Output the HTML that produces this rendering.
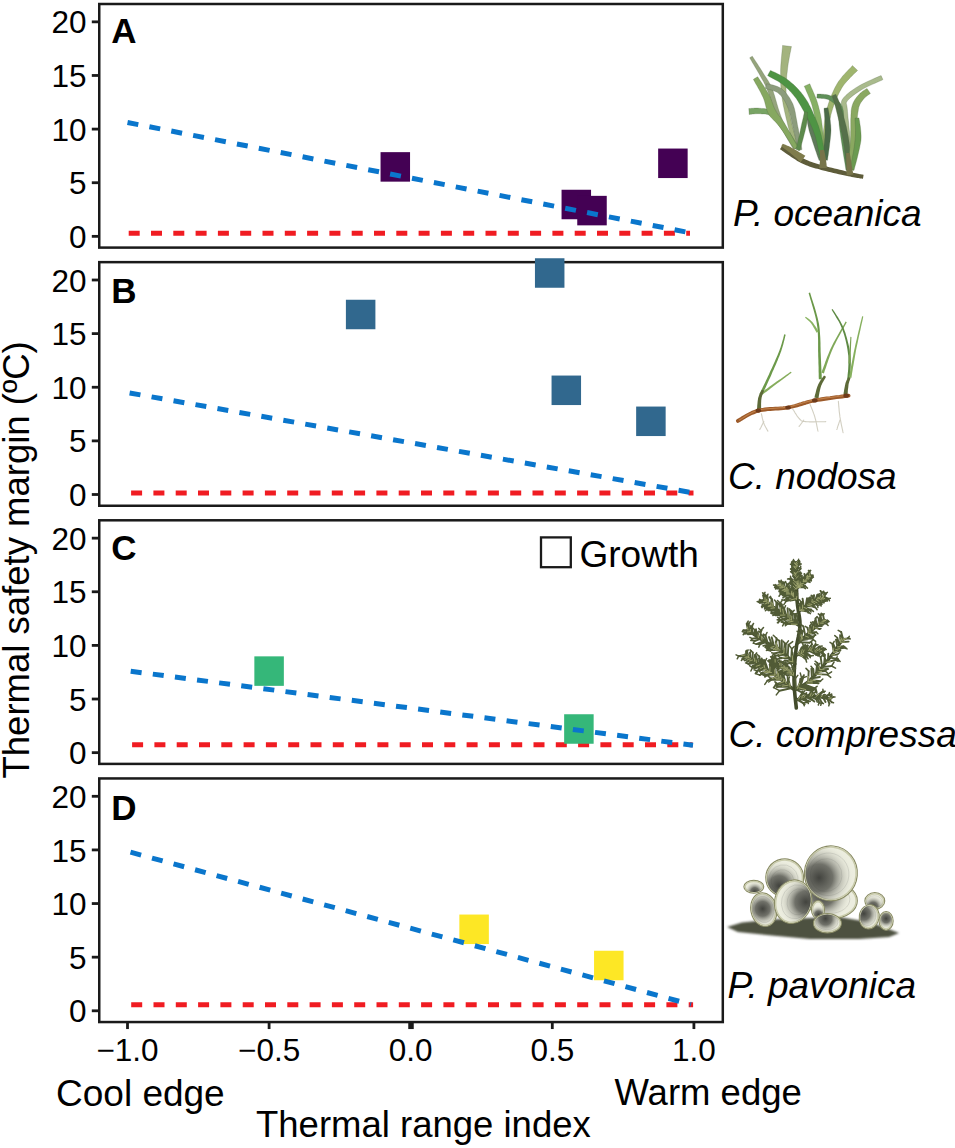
<!DOCTYPE html>
<html><head><meta charset="utf-8"><style>
html,body{margin:0;padding:0;background:#fff;overflow:hidden;}
svg{display:block;font-family:"Liberation Sans",sans-serif;}
</style></head><body>
<svg width="955" height="1148" viewBox="0 0 955 1148">
<rect width="955" height="1148" fill="#fff"/>
<rect x="99.25" y="4.00" width="623.55" height="243.60" fill="none" stroke="#1a1a1a" stroke-width="2.5"/>
<line x1="91.8" y1="236.35" x2="99.25" y2="236.35" stroke="#1a1a1a" stroke-width="2.8"/>
<text x="86.5" y="247.95" text-anchor="end" font-size="31.5">0</text>
<line x1="91.8" y1="182.72" x2="99.25" y2="182.72" stroke="#1a1a1a" stroke-width="2.8"/>
<text x="86.5" y="194.32" text-anchor="end" font-size="31.5">5</text>
<line x1="91.8" y1="129.10" x2="99.25" y2="129.10" stroke="#1a1a1a" stroke-width="2.8"/>
<text x="86.5" y="140.70" text-anchor="end" font-size="31.5">10</text>
<line x1="91.8" y1="75.47" x2="99.25" y2="75.47" stroke="#1a1a1a" stroke-width="2.8"/>
<text x="86.5" y="87.07" text-anchor="end" font-size="31.5">15</text>
<line x1="91.8" y1="21.85" x2="99.25" y2="21.85" stroke="#1a1a1a" stroke-width="2.8"/>
<text x="86.5" y="33.45" text-anchor="end" font-size="31.5">20</text>
<line x1="128.7" y1="233.35" x2="690.0" y2="233.35" stroke="#f01c22" stroke-width="5" stroke-dasharray="11 11.3"/>
<rect x="380.55" y="152.15" width="29.5" height="29.5" fill="#440154"/>
<rect x="561.55" y="189.75" width="29.5" height="29.5" fill="#440154"/>
<rect x="577.25" y="195.85" width="29.5" height="29.5" fill="#440154"/>
<rect x="658.15" y="148.55" width="29.5" height="29.5" fill="#440154"/>
<line x1="127.5" y1="122.50" x2="692" y2="233.14" stroke="#0a76cc" stroke-width="5" stroke-dasharray="11 11.3"/>
<text x="111.3" y="43.00" font-size="35" font-weight="bold">A</text>
<rect x="99.25" y="262.15" width="623.55" height="243.60" fill="none" stroke="#1a1a1a" stroke-width="2.5"/>
<line x1="91.8" y1="494.50" x2="99.25" y2="494.50" stroke="#1a1a1a" stroke-width="2.8"/>
<text x="86.5" y="506.10" text-anchor="end" font-size="31.5">0</text>
<line x1="91.8" y1="440.88" x2="99.25" y2="440.88" stroke="#1a1a1a" stroke-width="2.8"/>
<text x="86.5" y="452.48" text-anchor="end" font-size="31.5">5</text>
<line x1="91.8" y1="387.25" x2="99.25" y2="387.25" stroke="#1a1a1a" stroke-width="2.8"/>
<text x="86.5" y="398.85" text-anchor="end" font-size="31.5">10</text>
<line x1="91.8" y1="333.62" x2="99.25" y2="333.62" stroke="#1a1a1a" stroke-width="2.8"/>
<text x="86.5" y="345.23" text-anchor="end" font-size="31.5">15</text>
<line x1="91.8" y1="280.00" x2="99.25" y2="280.00" stroke="#1a1a1a" stroke-width="2.8"/>
<text x="86.5" y="291.60" text-anchor="end" font-size="31.5">20</text>
<line x1="131.1" y1="493.0" x2="693.5" y2="493.0" stroke="#f01c22" stroke-width="5" stroke-dasharray="11 11.3"/>
<rect x="345.90" y="299.75" width="29.5" height="29.5" fill="#31688e"/>
<rect x="534.95" y="258.25" width="29.5" height="29.5" fill="#31688e"/>
<rect x="551.55" y="375.55" width="29.5" height="29.5" fill="#31688e"/>
<rect x="636.15" y="406.55" width="29.5" height="29.5" fill="#31688e"/>
<line x1="129.6" y1="392.97" x2="692" y2="492.69" stroke="#0a76cc" stroke-width="5" stroke-dasharray="11 11.3"/>
<text x="111.3" y="302.60" font-size="35" font-weight="bold">B</text>
<rect x="99.25" y="520.30" width="623.55" height="243.60" fill="none" stroke="#1a1a1a" stroke-width="2.5"/>
<line x1="91.8" y1="752.65" x2="99.25" y2="752.65" stroke="#1a1a1a" stroke-width="2.8"/>
<text x="86.5" y="764.25" text-anchor="end" font-size="31.5">0</text>
<line x1="91.8" y1="699.02" x2="99.25" y2="699.02" stroke="#1a1a1a" stroke-width="2.8"/>
<text x="86.5" y="710.62" text-anchor="end" font-size="31.5">5</text>
<line x1="91.8" y1="645.40" x2="99.25" y2="645.40" stroke="#1a1a1a" stroke-width="2.8"/>
<text x="86.5" y="657.00" text-anchor="end" font-size="31.5">10</text>
<line x1="91.8" y1="591.77" x2="99.25" y2="591.77" stroke="#1a1a1a" stroke-width="2.8"/>
<text x="86.5" y="603.38" text-anchor="end" font-size="31.5">15</text>
<line x1="91.8" y1="538.15" x2="99.25" y2="538.15" stroke="#1a1a1a" stroke-width="2.8"/>
<text x="86.5" y="549.75" text-anchor="end" font-size="31.5">20</text>
<line x1="132.1" y1="744.7" x2="692.6" y2="744.7" stroke="#f01c22" stroke-width="5" stroke-dasharray="11 11.3"/>
<rect x="254.35" y="656.35" width="29.5" height="29.5" fill="#35b779"/>
<rect x="564.15" y="714.25" width="29.5" height="29.5" fill="#35b779"/>
<line x1="130.7" y1="671.22" x2="693" y2="745.28" stroke="#0a76cc" stroke-width="5" stroke-dasharray="11 11.3"/>
<text x="111.3" y="560.00" font-size="35" font-weight="bold">C</text>
<rect x="99.25" y="778.45" width="623.55" height="243.60" fill="none" stroke="#1a1a1a" stroke-width="2.5"/>
<line x1="91.8" y1="1010.80" x2="99.25" y2="1010.80" stroke="#1a1a1a" stroke-width="2.8"/>
<text x="86.5" y="1022.40" text-anchor="end" font-size="31.5">0</text>
<line x1="91.8" y1="957.17" x2="99.25" y2="957.17" stroke="#1a1a1a" stroke-width="2.8"/>
<text x="86.5" y="968.77" text-anchor="end" font-size="31.5">5</text>
<line x1="91.8" y1="903.55" x2="99.25" y2="903.55" stroke="#1a1a1a" stroke-width="2.8"/>
<text x="86.5" y="915.15" text-anchor="end" font-size="31.5">10</text>
<line x1="91.8" y1="849.92" x2="99.25" y2="849.92" stroke="#1a1a1a" stroke-width="2.8"/>
<text x="86.5" y="861.52" text-anchor="end" font-size="31.5">15</text>
<line x1="91.8" y1="796.30" x2="99.25" y2="796.30" stroke="#1a1a1a" stroke-width="2.8"/>
<text x="86.5" y="807.90" text-anchor="end" font-size="31.5">20</text>
<line x1="131.2" y1="1004.85" x2="693.1" y2="1004.85" stroke="#f01c22" stroke-width="5" stroke-dasharray="11 11.3"/>
<rect x="459.35" y="914.55" width="29.5" height="29.5" fill="#fde725"/>
<rect x="594.05" y="950.75" width="29.5" height="29.5" fill="#fde725"/>
<line x1="130.5" y1="852.21" x2="691" y2="1004.45" stroke="#0a76cc" stroke-width="5" stroke-dasharray="11 11.3"/>
<text x="111.3" y="819.80" font-size="35" font-weight="bold">D</text>
<line x1="127.50" y1="1022.05" x2="127.50" y2="1029.05" stroke="#1a1a1a" stroke-width="2.8"/>
<text x="127.50" y="1060.5" text-anchor="middle" font-size="31.5">−1.0</text>
<line x1="269.10" y1="1022.05" x2="269.10" y2="1029.05" stroke="#1a1a1a" stroke-width="2.8"/>
<text x="269.10" y="1060.5" text-anchor="middle" font-size="31.5">−0.5</text>
<line x1="411.00" y1="1022.05" x2="411.00" y2="1029.05" stroke="#1a1a1a" stroke-width="5.5"/>
<text x="410.70" y="1060.5" text-anchor="middle" font-size="31.5">0.0</text>
<line x1="552.30" y1="1022.05" x2="552.30" y2="1029.05" stroke="#1a1a1a" stroke-width="2.8"/>
<text x="552.30" y="1060.5" text-anchor="middle" font-size="31.5">0.5</text>
<line x1="693.90" y1="1022.05" x2="693.90" y2="1029.05" stroke="#1a1a1a" stroke-width="2.8"/>
<text x="693.90" y="1060.5" text-anchor="middle" font-size="31.5">1.0</text>
<rect x="541" y="537.4" width="29.8" height="29.8" fill="none" stroke="#1a1a1a" stroke-width="2.3"/>
<text x="579.5" y="567" font-size="37">Growth</text>
<text x="56" y="1105.5" font-size="37">Cool edge</text>
<text x="614.5" y="1105" font-size="36.5">Warm edge</text>
<text x="256" y="1137" font-size="36.5">Thermal range index</text>
<text transform="translate(29.3,778.5) rotate(-90)" font-size="36.5">Thermal safety margin (ºC)</text>
<text x="733" y="225.5" font-size="37" font-style="italic">P. oceanica</text>
<text x="728" y="489.2" font-size="37" font-style="italic">C. nodosa</text>
<text x="728.5" y="746.8" font-size="37" font-style="italic">C. compressa</text>
<text x="727.5" y="998.1" font-size="37" font-style="italic">P. pavonica</text>
<g>
<path d="M798.9,147.4 L798.6,146.3 L798.1,145.0 L797.6,143.4 L797.1,141.7 L796.5,139.8 L795.8,137.7 L795.2,135.6 L794.5,133.4 L793.9,131.2 L793.2,128.9 L792.6,126.7 L792.1,124.5 L791.5,122.2 L791.0,119.8 L790.4,117.4 L789.8,114.9 L789.3,112.3 L788.7,109.7 L788.2,107.1 L787.7,104.5 L787.2,101.9 L786.8,99.5 L786.5,97.1 L786.2,94.8 L786.1,92.5 L786.1,90.4 L786.0,88.3 L786.1,86.2 L786.1,84.2 L786.2,82.2 L786.4,80.2 L786.6,78.2 L786.7,76.2 L786.9,74.2 L787.2,72.2 L787.4,70.2 L787.6,68.2 L787.9,66.0 L788.2,63.8 L788.6,61.5 L789.0,59.2 L789.4,57.0 L789.8,54.8 L790.2,52.8 L790.6,50.9 L790.9,49.2 L791.2,47.8 L791.5,46.6 L782.5,45.4 L782.5,46.6 L782.4,48.0 L782.2,49.7 L782.0,51.6 L781.8,53.7 L781.6,55.9 L781.4,58.2 L781.2,60.6 L781.0,63.0 L780.8,65.3 L780.7,67.6 L780.6,69.8 L780.6,71.8 L780.6,73.9 L780.6,75.9 L780.6,78.0 L780.6,80.0 L780.6,82.1 L780.7,84.2 L780.8,86.3 L781.0,88.5 L781.2,90.7 L781.4,92.9 L781.8,95.2 L782.1,97.6 L782.4,100.1 L782.9,102.7 L783.3,105.3 L783.9,107.9 L784.4,110.6 L785.0,113.2 L785.6,115.8 L786.2,118.4 L786.8,120.8 L787.4,123.2 L787.9,125.5 L788.5,127.8 L789.2,130.1 L789.8,132.4 L790.5,134.6 L791.2,136.9 L791.9,139.0 L792.6,141.0 L793.2,142.9 L793.8,144.7 L794.3,146.2 L794.7,147.5 L795.1,148.6Z" fill="#a3b37e" stroke="#4a5e3a" stroke-width="0.5" stroke-opacity="0.5"/>
<path d="M796.8,147.0 L796.0,145.7 L795.1,144.0 L794.0,142.0 L792.7,139.8 L791.4,137.4 L790.0,134.8 L788.5,132.2 L787.1,129.5 L785.7,126.8 L784.4,124.1 L783.1,121.5 L782.1,119.1 L781.1,116.7 L780.2,114.2 L779.3,111.6 L778.4,108.9 L777.6,106.2 L776.8,103.5 L776.1,100.9 L775.3,98.3 L774.6,95.8 L773.8,93.4 L773.1,91.1 L772.3,89.1 L771.5,87.3 L770.8,85.7 L770.1,84.2 L769.4,82.9 L768.7,81.7 L768.0,80.6 L767.3,79.6 L766.7,78.5 L766.0,77.5 L765.3,76.4 L764.5,75.3 L763.7,74.0 L762.8,72.6 L761.9,71.0 L760.8,69.3 L759.7,67.6 L758.6,65.9 L757.5,64.1 L756.4,62.5 L755.4,60.9 L754.4,59.4 L753.6,58.2 L752.9,57.1 L752.3,56.2 L749.7,57.8 L750.2,58.7 L750.9,59.8 L751.7,61.2 L752.5,62.7 L753.5,64.3 L754.5,66.0 L755.5,67.7 L756.6,69.5 L757.6,71.3 L758.6,72.9 L759.5,74.5 L760.3,76.0 L761.0,77.3 L761.7,78.6 L762.4,79.7 L763.0,80.8 L763.6,81.8 L764.1,82.9 L764.7,83.9 L765.2,85.1 L765.8,86.3 L766.4,87.7 L767.0,89.2 L767.7,90.9 L768.4,92.8 L769.2,94.9 L769.9,97.2 L770.7,99.7 L771.5,102.2 L772.3,104.9 L773.1,107.6 L774.0,110.3 L774.9,113.0 L775.9,115.7 L776.9,118.3 L777.9,120.9 L779.1,123.4 L780.4,126.1 L781.8,128.8 L783.3,131.5 L784.8,134.3 L786.3,136.9 L787.7,139.5 L789.1,141.8 L790.4,144.0 L791.5,146.0 L792.5,147.6 L793.2,149.0Z" fill="#95a47c" stroke="#4a5e3a" stroke-width="0.5" stroke-opacity="0.5"/>
<path d="M852.0,169.9 L851.9,168.4 L851.8,166.6 L851.7,164.5 L851.6,162.1 L851.4,159.5 L851.3,156.7 L851.1,153.9 L850.9,151.0 L850.8,148.1 L850.6,145.2 L850.4,142.4 L850.2,139.8 L850.0,137.2 L849.7,134.6 L849.5,131.8 L849.2,129.0 L848.9,126.2 L848.7,123.5 L848.4,120.8 L848.1,118.3 L847.9,115.9 L847.7,113.6 L847.5,111.6 L847.4,109.8 L847.2,108.2 L847.0,106.8 L846.8,105.6 L846.6,104.7 L846.4,103.9 L846.3,103.4 L846.3,103.1 L846.3,102.9 L846.3,102.8 L846.4,102.6 L846.6,102.1 L847.0,101.4 L847.6,100.6 L848.3,99.8 L849.2,98.8 L850.2,97.9 L851.4,96.9 L852.6,95.9 L853.9,94.9 L855.3,93.9 L856.7,92.9 L858.2,91.9 L859.7,90.9 L861.2,90.0 L862.8,89.1 L864.6,88.1 L866.5,87.1 L868.6,86.1 L870.7,85.1 L872.9,84.1 L875.0,83.2 L877.0,82.3 L878.8,81.5 L880.4,80.8 L881.8,80.2 L882.9,79.6 L881.1,75.6 L880.0,76.0 L878.6,76.6 L877.0,77.3 L875.1,78.1 L873.1,79.0 L871.0,80.0 L868.8,80.9 L866.6,81.9 L864.5,83.0 L862.4,84.0 L860.5,85.0 L858.8,86.0 L857.2,87.0 L855.6,87.9 L854.1,89.0 L852.6,90.0 L851.1,91.1 L849.7,92.1 L848.3,93.2 L847.0,94.3 L845.8,95.4 L844.8,96.4 L843.8,97.5 L843.0,98.6 L842.3,99.6 L841.8,100.6 L841.5,101.5 L841.3,102.5 L841.3,103.5 L841.4,104.4 L841.6,105.1 L841.8,105.9 L842.0,106.7 L842.3,107.6 L842.4,108.8 L842.6,110.2 L842.8,112.0 L843.0,114.1 L843.2,116.3 L843.5,118.8 L843.8,121.3 L844.1,124.0 L844.4,126.7 L844.7,129.5 L845.0,132.3 L845.3,135.0 L845.6,137.6 L845.8,140.2 L846.0,142.8 L846.3,145.5 L846.5,148.4 L846.7,151.3 L846.9,154.2 L847.1,157.0 L847.3,159.8 L847.5,162.3 L847.6,164.7 L847.8,166.9 L847.9,168.7 L848.0,170.1Z" fill="#a9ba8c" stroke="#4a5e3a" stroke-width="0.5" stroke-opacity="0.5"/>
<path d="M826.0,158.1 L826.1,156.8 L826.3,155.0 L826.4,152.9 L826.6,150.6 L826.7,148.1 L826.9,145.5 L827.1,142.8 L827.4,140.1 L827.6,137.4 L827.8,134.8 L828.1,132.4 L828.4,130.3 L828.6,128.2 L828.9,126.3 L829.2,124.4 L829.4,122.6 L829.7,120.8 L830.0,119.1 L830.4,117.4 L830.7,115.7 L831.1,114.0 L831.6,112.3 L832.1,110.6 L832.6,108.8 L833.2,107.0 L833.9,105.1 L834.6,103.2 L835.4,101.2 L836.2,99.3 L837.0,97.3 L837.9,95.4 L838.8,93.5 L839.7,91.7 L840.7,90.0 L841.6,88.3 L842.6,86.7 L843.7,85.1 L844.9,83.6 L846.2,82.0 L847.6,80.4 L849.1,78.9 L850.5,77.3 L852.0,75.9 L853.3,74.6 L854.6,73.3 L855.8,72.2 L856.8,71.2 L857.6,70.4 L852.4,65.6 L851.7,66.4 L850.9,67.4 L849.8,68.5 L848.5,69.8 L847.2,71.2 L845.7,72.8 L844.2,74.4 L842.7,76.1 L841.3,77.9 L839.9,79.7 L838.5,81.5 L837.4,83.3 L836.3,85.2 L835.3,87.0 L834.3,89.0 L833.4,91.0 L832.5,93.0 L831.6,95.0 L830.8,97.1 L830.0,99.2 L829.3,101.2 L828.6,103.2 L828.0,105.2 L827.4,107.2 L826.8,109.1 L826.4,111.0 L825.9,112.8 L825.6,114.7 L825.3,116.5 L825.0,118.3 L824.7,120.1 L824.5,121.9 L824.3,123.8 L824.1,125.7 L823.9,127.7 L823.6,129.7 L823.4,132.0 L823.2,134.4 L823.0,137.1 L822.9,139.8 L822.7,142.5 L822.6,145.2 L822.4,147.9 L822.3,150.4 L822.2,152.7 L822.1,154.8 L822.1,156.5 L822.0,157.9Z" fill="#9fb56e" stroke="#4a5e3a" stroke-width="0.5" stroke-opacity="0.5"/>
<path d="M802.0,149.6 L801.8,148.4 L801.5,146.8 L801.2,145.0 L800.8,142.9 L800.4,140.7 L800.0,138.3 L799.6,135.9 L799.1,133.4 L798.7,131.0 L798.3,128.7 L797.8,126.5 L797.4,124.5 L797.1,122.6 L796.8,120.8 L796.4,119.0 L796.1,117.2 L795.8,115.5 L795.5,113.7 L795.2,112.0 L794.8,110.3 L794.4,108.6 L793.9,107.0 L793.4,105.4 L792.8,103.8 L792.0,102.3 L791.3,100.9 L790.5,99.4 L789.7,98.1 L788.8,96.7 L787.9,95.4 L787.0,94.2 L786.0,93.0 L785.0,91.8 L783.9,90.8 L782.8,89.8 L781.7,88.8 L780.4,87.9 L779.0,87.2 L777.5,86.5 L776.0,86.0 L774.5,85.5 L773.1,85.1 L771.7,84.7 L770.4,84.5 L769.2,84.2 L768.2,84.0 L767.4,83.8 L766.7,83.6 L765.3,88.4 L766.0,88.6 L767.0,88.9 L768.0,89.2 L769.2,89.5 L770.4,89.8 L771.7,90.2 L773.0,90.6 L774.2,91.0 L775.4,91.5 L776.5,92.0 L777.5,92.6 L778.3,93.2 L779.1,93.9 L780.0,94.7 L780.8,95.6 L781.6,96.6 L782.4,97.6 L783.2,98.7 L784.0,99.9 L784.7,101.1 L785.4,102.3 L786.0,103.6 L786.7,104.9 L787.2,106.2 L787.8,107.5 L788.4,108.9 L788.8,110.3 L789.3,111.8 L789.7,113.3 L790.1,114.9 L790.5,116.6 L790.9,118.3 L791.3,120.0 L791.7,121.8 L792.1,123.7 L792.6,125.5 L793.0,127.5 L793.5,129.7 L794.0,132.0 L794.6,134.3 L795.1,136.8 L795.6,139.2 L796.1,141.5 L796.6,143.7 L797.0,145.8 L797.4,147.6 L797.8,149.2 L798.0,150.4Z" fill="#8c9c7c" stroke="#4a5e3a" stroke-width="0.5" stroke-opacity="0.5"/>
<path d="M824.0,159.9 L824.0,158.4 L823.9,156.6 L823.9,154.4 L823.8,151.9 L823.7,149.3 L823.6,146.4 L823.5,143.5 L823.4,140.6 L823.3,137.7 L823.1,134.8 L822.9,132.1 L822.6,129.7 L822.4,127.4 L822.1,125.1 L821.8,122.8 L821.5,120.6 L821.2,118.4 L820.8,116.3 L820.4,114.2 L819.9,112.1 L819.4,110.1 L818.9,108.1 L818.4,106.1 L817.9,104.2 L817.3,102.2 L816.6,100.1 L815.8,98.1 L815.0,96.1 L814.2,94.1 L813.4,92.3 L812.7,90.5 L811.9,88.8 L811.2,87.3 L810.7,85.9 L810.2,84.8 L809.8,83.8 L804.2,86.2 L804.6,87.1 L805.2,88.3 L805.8,89.7 L806.4,91.2 L807.2,92.9 L807.9,94.6 L808.7,96.5 L809.5,98.3 L810.2,100.2 L810.9,102.1 L811.6,104.0 L812.1,105.8 L812.6,107.7 L813.1,109.6 L813.6,111.5 L814.1,113.4 L814.5,115.4 L814.9,117.5 L815.4,119.5 L815.8,121.6 L816.2,123.7 L816.6,125.9 L817.0,128.1 L817.4,130.3 L817.7,132.7 L818.0,135.3 L818.3,138.0 L818.5,140.9 L818.8,143.8 L819.0,146.7 L819.2,149.5 L819.4,152.1 L819.5,154.6 L819.7,156.8 L819.9,158.6 L820.0,160.1Z" fill="#86b064" stroke="#4a5e3a" stroke-width="0.5" stroke-opacity="0.5"/>
<path d="M798.7,146.9 L798.1,146.0 L797.4,144.9 L796.6,143.6 L795.7,142.1 L794.7,140.5 L793.6,138.8 L792.5,137.1 L791.3,135.3 L790.2,133.6 L789.0,131.8 L787.9,130.2 L786.8,128.7 L785.8,127.2 L784.7,125.7 L783.7,124.2 L782.6,122.7 L781.5,121.1 L780.4,119.6 L779.3,118.2 L778.1,116.7 L777.0,115.4 L775.9,114.2 L774.7,113.0 L773.5,112.0 L772.3,111.1 L771.1,110.4 L769.8,109.9 L768.6,109.4 L767.4,109.1 L766.3,108.9 L765.2,108.7 L764.1,108.6 L763.1,108.5 L762.1,108.4 L761.2,108.4 L760.2,108.3 L759.2,108.2 L758.0,108.1 L756.9,108.1 L755.7,108.1 L754.6,108.1 L753.5,108.2 L752.5,108.3 L751.5,108.3 L750.7,108.4 L749.9,108.5 L749.3,108.5 L748.8,108.5 L749.2,114.5 L749.8,114.4 L750.5,114.3 L751.2,114.3 L752.1,114.1 L753.0,114.0 L754.0,113.9 L755.0,113.8 L756.0,113.8 L757.0,113.7 L757.9,113.7 L758.9,113.7 L759.8,113.7 L760.8,113.8 L761.8,113.9 L762.8,113.9 L763.7,113.9 L764.6,114.0 L765.5,114.1 L766.3,114.2 L767.2,114.4 L768.0,114.6 L768.8,115.0 L769.6,115.4 L770.5,116.0 L771.4,116.7 L772.4,117.6 L773.4,118.7 L774.4,119.9 L775.5,121.1 L776.6,122.5 L777.7,123.9 L778.8,125.4 L779.9,126.9 L781.0,128.4 L782.1,129.9 L783.2,131.3 L784.3,132.8 L785.4,134.3 L786.5,136.0 L787.7,137.7 L788.9,139.5 L790.0,141.2 L791.1,142.8 L792.2,144.4 L793.1,145.8 L794.0,147.1 L794.7,148.2 L795.3,149.1Z" fill="#78a464" stroke="#4a5e3a" stroke-width="0.5" stroke-opacity="0.5"/>
<path d="M797.7,147.0 L797.1,145.8 L796.3,144.3 L795.3,142.5 L794.2,140.5 L793.0,138.3 L791.8,136.0 L790.5,133.7 L789.2,131.4 L787.9,129.1 L786.7,127.0 L785.5,125.1 L784.5,123.3 L783.5,121.8 L782.6,120.4 L781.6,119.1 L780.8,117.9 L779.9,116.8 L779.1,115.8 L778.4,114.8 L777.7,113.9 L777.1,112.9 L776.5,112.0 L776.0,111.1 L775.5,110.1 L774.9,109.1 L774.4,108.0 L773.9,106.9 L773.4,105.8 L773.0,104.5 L772.5,103.2 L772.0,101.9 L771.5,100.5 L771.0,99.1 L770.4,97.6 L769.7,96.1 L768.9,94.6 L768.1,93.0 L767.1,91.4 L766.1,89.7 L765.0,88.0 L763.9,86.2 L762.8,84.5 L761.8,82.9 L760.7,81.3 L759.8,79.9 L758.9,78.6 L758.2,77.6 L757.6,76.7 L753.4,79.3 L753.8,80.2 L754.5,81.4 L755.2,82.7 L756.0,84.2 L757.0,85.8 L757.9,87.5 L758.9,89.2 L759.9,91.0 L760.8,92.7 L761.6,94.4 L762.4,96.0 L763.1,97.4 L763.6,98.7 L764.1,100.0 L764.5,101.3 L764.9,102.7 L765.2,104.0 L765.6,105.4 L765.9,106.8 L766.3,108.2 L766.7,109.6 L767.2,111.0 L767.8,112.5 L768.5,113.9 L769.4,115.2 L770.2,116.4 L771.1,117.5 L772.1,118.5 L773.0,119.5 L773.9,120.4 L774.8,121.3 L775.7,122.2 L776.6,123.2 L777.5,124.2 L778.5,125.4 L779.5,126.7 L780.6,128.2 L781.9,130.0 L783.2,132.0 L784.6,134.2 L786.0,136.4 L787.5,138.6 L788.9,140.8 L790.2,142.9 L791.5,144.8 L792.6,146.5 L793.5,147.9 L794.3,149.0Z" fill="#86a860" stroke="#4a5e3a" stroke-width="0.5" stroke-opacity="0.5"/>
<path d="M850.0,169.7 L849.7,167.7 L849.3,165.1 L848.9,162.1 L848.4,158.6 L847.8,154.9 L847.2,151.1 L846.6,147.1 L846.1,143.2 L845.5,139.4 L845.0,135.8 L844.6,132.5 L844.2,129.7 L844.0,127.3 L843.8,125.0 L843.7,122.8 L843.7,120.8 L843.6,118.9 L843.6,117.1 L843.6,115.3 L843.5,113.6 L843.4,111.9 L843.2,110.3 L842.8,108.7 L842.3,107.1 L841.7,105.7 L841.0,104.3 L840.1,103.1 L839.2,101.9 L838.3,100.9 L837.3,100.0 L836.2,99.1 L835.2,98.4 L834.1,97.7 L833.1,97.1 L832.1,96.5 L831.0,96.0 L829.8,95.5 L828.5,95.1 L827.1,94.7 L825.7,94.5 L824.4,94.4 L823.1,94.3 L821.8,94.2 L820.6,94.1 L819.5,94.1 L818.6,94.1 L817.8,94.1 L817.2,94.0 L816.8,98.0 L817.5,98.1 L818.3,98.2 L819.3,98.2 L820.4,98.3 L821.5,98.4 L822.7,98.5 L823.9,98.6 L825.1,98.8 L826.2,99.0 L827.3,99.3 L828.2,99.6 L829.0,100.0 L829.9,100.5 L830.8,101.0 L831.6,101.6 L832.5,102.2 L833.3,102.8 L834.1,103.5 L834.8,104.2 L835.5,105.0 L836.1,105.9 L836.7,106.8 L837.2,107.8 L837.7,108.9 L838.0,110.0 L838.3,111.2 L838.5,112.5 L838.7,114.0 L838.8,115.5 L838.9,117.2 L838.9,119.0 L839.0,121.0 L839.1,123.1 L839.2,125.3 L839.5,127.7 L839.8,130.3 L840.2,133.1 L840.7,136.4 L841.2,140.0 L841.8,143.8 L842.4,147.7 L843.0,151.7 L843.6,155.6 L844.2,159.3 L844.8,162.7 L845.3,165.8 L845.7,168.3 L846.0,170.3Z" fill="#5e8f58" stroke="#4a5e3a" stroke-width="0.5" stroke-opacity="0.5"/>
<path d="M822.9,159.4 L822.5,157.9 L822.0,156.0 L821.4,153.7 L820.7,151.1 L819.9,148.3 L819.1,145.4 L818.3,142.4 L817.5,139.5 L816.7,136.6 L816.0,133.9 L815.4,131.4 L814.9,129.2 L814.3,127.3 L813.8,125.4 L813.2,123.6 L812.8,121.9 L812.3,120.2 L811.9,118.6 L811.5,117.1 L811.1,115.8 L810.8,114.5 L810.5,113.4 L810.2,112.4 L810.0,111.6 L806.0,112.4 L806.1,113.3 L806.3,114.2 L806.4,115.4 L806.6,116.7 L806.8,118.1 L807.0,119.6 L807.3,121.3 L807.5,123.0 L807.9,124.9 L808.2,126.8 L808.7,128.7 L809.1,130.8 L809.8,133.0 L810.6,135.4 L811.5,138.1 L812.4,141.0 L813.4,143.9 L814.4,146.9 L815.3,149.7 L816.3,152.5 L817.1,155.0 L817.9,157.2 L818.6,159.1 L819.1,160.6Z" fill="#5f7a5a" stroke="#4a5e3a" stroke-width="0.5" stroke-opacity="0.5"/>
<path d="M827.5,160.3 L827.7,158.8 L827.9,157.0 L828.3,154.7 L828.6,152.2 L829.0,149.5 L829.4,146.7 L829.7,143.8 L830.1,140.8 L830.4,137.9 L830.7,135.1 L830.9,132.5 L831.0,130.1 L830.9,127.8 L830.8,125.5 L830.5,123.2 L830.3,121.0 L830.0,118.9 L829.7,116.8 L829.3,114.9 L829.0,113.1 L828.7,111.5 L828.4,110.0 L828.2,108.8 L828.0,107.8 L824.0,108.2 L824.0,109.3 L824.1,110.6 L824.2,112.1 L824.4,113.7 L824.5,115.5 L824.7,117.4 L824.9,119.4 L825.0,121.5 L825.1,123.6 L825.1,125.7 L825.1,127.9 L825.0,129.9 L825.0,132.2 L824.8,134.7 L824.7,137.4 L824.4,140.2 L824.2,143.2 L823.9,146.1 L823.6,148.9 L823.3,151.6 L823.1,154.1 L822.8,156.3 L822.6,158.2 L822.5,159.7Z" fill="#4a6a48" stroke="#4a5e3a" stroke-width="0.5" stroke-opacity="0.5"/>
<path d="M851.5,169.8 L851.4,168.3 L851.3,166.5 L851.1,164.4 L851.0,162.0 L850.8,159.4 L850.6,156.6 L850.4,153.8 L850.1,150.8 L849.8,147.9 L849.5,145.0 L849.2,142.2 L848.8,139.5 L848.4,136.9 L847.9,134.3 L847.3,131.5 L846.8,128.8 L846.2,126.1 L845.5,123.4 L844.8,120.7 L844.1,118.2 L843.4,115.7 L842.8,113.4 L842.2,111.3 L841.6,109.3 L841.0,107.5 L840.4,105.7 L839.9,104.1 L839.3,102.6 L838.8,101.1 L838.3,99.8 L837.8,98.6 L837.3,97.6 L836.9,96.6 L836.5,95.7 L836.2,95.0 L835.9,94.3 L832.1,95.7 L832.3,96.4 L832.5,97.2 L832.8,98.1 L833.1,99.1 L833.5,100.2 L833.9,101.4 L834.3,102.7 L834.7,104.1 L835.1,105.6 L835.5,107.2 L836.0,108.9 L836.4,110.7 L836.9,112.7 L837.4,114.8 L838.0,117.2 L838.5,119.6 L839.1,122.1 L839.7,124.8 L840.4,127.4 L841.0,130.1 L841.6,132.8 L842.2,135.4 L842.7,138.0 L843.2,140.5 L843.6,143.0 L844.0,145.7 L844.4,148.5 L844.7,151.4 L845.0,154.3 L845.3,157.1 L845.5,159.8 L845.8,162.4 L846.0,164.8 L846.2,166.9 L846.3,168.8 L846.5,170.2Z" fill="#55704a" stroke="#4a5e3a" stroke-width="0.5" stroke-opacity="0.5"/>
<path d="M825.5,159.5 L825.3,158.3 L825.1,156.8 L824.8,154.9 L824.5,152.9 L824.1,150.6 L823.8,148.2 L823.3,145.8 L822.9,143.3 L822.5,140.9 L822.0,138.5 L821.5,136.2 L821.0,134.2 L820.5,132.2 L819.9,130.4 L819.3,128.5 L818.8,126.8 L818.2,125.0 L817.5,123.3 L816.9,121.7 L816.2,120.0 L815.5,118.3 L814.8,116.7 L814.1,115.0 L813.3,113.4 L812.6,111.7 L811.8,110.0 L811.0,108.3 L810.1,106.6 L809.2,104.9 L808.4,103.2 L807.4,101.5 L806.4,99.9 L805.3,98.3 L804.2,96.7 L803.2,95.2 L802.0,93.7 L800.9,92.3 L799.7,90.9 L798.5,89.6 L797.3,88.3 L796.1,87.0 L794.8,85.8 L793.6,84.6 L792.3,83.5 L791.0,82.4 L789.7,81.3 L788.4,80.3 L787.0,79.3 L785.6,78.3 L784.1,77.3 L782.5,76.4 L780.8,75.5 L779.2,74.6 L777.6,73.8 L776.1,73.0 L774.6,72.3 L773.3,71.7 L772.1,71.2 L771.2,70.7 L770.4,70.4 L767.6,75.6 L768.4,76.1 L769.4,76.7 L770.5,77.3 L771.8,77.9 L773.2,78.7 L774.6,79.5 L776.1,80.3 L777.6,81.1 L779.1,82.0 L780.5,82.9 L781.8,83.8 L783.0,84.7 L784.1,85.7 L785.3,86.6 L786.4,87.7 L787.6,88.7 L788.7,89.8 L789.8,90.9 L790.9,92.1 L791.9,93.3 L793.0,94.5 L794.0,95.7 L795.0,97.0 L796.0,98.3 L796.9,99.6 L797.8,101.0 L798.7,102.5 L799.6,104.0 L800.5,105.5 L801.4,107.1 L802.3,108.7 L803.2,110.2 L804.1,111.8 L805.0,113.4 L805.8,115.0 L806.7,116.6 L807.5,118.2 L808.3,119.7 L809.1,121.3 L809.8,122.8 L810.5,124.4 L811.2,125.9 L811.9,127.5 L812.6,129.1 L813.2,130.7 L813.8,132.4 L814.4,134.1 L815.0,135.8 L815.6,137.7 L816.1,139.8 L816.7,142.1 L817.2,144.5 L817.7,146.9 L818.2,149.3 L818.7,151.6 L819.2,153.8 L819.6,155.8 L819.9,157.7 L820.3,159.2 L820.5,160.5Z" fill="#4e9444" stroke="#4a5e3a" stroke-width="0.5" stroke-opacity="0.5"/>
<path d="M852.0,170.2 L852.2,168.7 L852.4,166.9 L852.7,164.6 L853.0,162.2 L853.4,159.5 L853.7,156.6 L854.1,153.7 L854.4,150.8 L854.8,147.9 L855.1,145.1 L855.4,142.5 L855.6,140.2 L855.8,138.0 L856.0,135.9 L856.1,133.8 L856.2,131.8 L856.4,129.9 L856.5,128.0 L856.6,126.2 L856.7,124.5 L856.8,122.8 L856.9,121.2 L857.0,119.7 L857.2,118.3 L857.4,116.9 L857.5,115.5 L857.7,114.3 L857.8,113.2 L858.0,112.1 L858.2,111.1 L858.3,110.2 L858.4,109.3 L858.6,108.5 L858.7,107.7 L858.9,106.9 L859.2,106.2 L859.5,105.4 L859.8,104.7 L860.1,104.0 L860.5,103.3 L860.9,102.6 L861.4,101.9 L861.9,101.2 L862.4,100.6 L862.9,100.0 L863.4,99.3 L863.9,98.7 L864.3,98.2 L864.8,97.7 L865.2,97.3 L865.8,96.8 L866.3,96.4 L866.9,95.9 L867.5,95.5 L868.0,95.1 L868.6,94.7 L869.1,94.4 L869.6,94.0 L870.1,93.7 L870.4,93.5 L867.0,88.5 L866.7,88.7 L866.3,88.9 L865.8,89.2 L865.3,89.6 L864.7,89.9 L864.0,90.4 L863.3,90.8 L862.6,91.3 L861.8,91.9 L861.1,92.5 L860.3,93.1 L859.7,93.8 L859.1,94.5 L858.5,95.1 L857.9,95.8 L857.2,96.5 L856.6,97.3 L856.0,98.1 L855.4,98.9 L854.8,99.8 L854.3,100.8 L853.7,101.7 L853.2,102.8 L852.8,103.8 L852.4,104.9 L852.1,105.9 L851.8,107.0 L851.6,108.1 L851.4,109.1 L851.2,110.2 L851.1,111.4 L851.1,112.5 L851.0,113.7 L850.9,115.0 L850.9,116.3 L850.8,117.7 L850.7,119.3 L850.7,120.9 L850.7,122.6 L850.7,124.3 L850.7,126.0 L850.7,127.9 L850.7,129.7 L850.6,131.6 L850.6,133.6 L850.6,135.6 L850.5,137.7 L850.4,139.8 L850.3,142.1 L850.1,144.7 L849.9,147.4 L849.6,150.3 L849.4,153.2 L849.1,156.1 L848.9,159.0 L848.7,161.7 L848.4,164.2 L848.3,166.4 L848.1,168.3 L848.0,169.8Z" fill="#8aa860" stroke="#4a5e3a" stroke-width="0.5" stroke-opacity="0.5"/>
<path d="M854.0,170.4 L854.3,169.0 L854.8,167.1 L855.4,164.9 L856.1,162.4 L856.8,159.8 L857.5,156.9 L858.2,154.0 L858.9,151.0 L859.6,148.1 L860.1,145.3 L860.6,142.7 L861.0,140.3 L861.1,138.0 L861.1,135.7 L861.0,133.4 L860.8,131.1 L860.6,129.0 L860.4,126.9 L860.1,125.0 L859.8,123.2 L859.6,121.5 L859.3,120.1 L859.1,118.9 L859.0,117.9 L855.0,118.1 L855.0,119.2 L855.0,120.5 L855.1,122.0 L855.2,123.6 L855.3,125.4 L855.4,127.3 L855.5,129.3 L855.5,131.4 L855.5,133.5 L855.4,135.6 L855.2,137.7 L855.0,139.7 L854.8,141.9 L854.5,144.4 L854.1,147.1 L853.7,150.0 L853.2,152.9 L852.6,155.8 L852.1,158.7 L851.5,161.4 L851.0,163.9 L850.6,166.2 L850.3,168.1 L850.0,169.6Z" fill="#6a9a50" stroke="#4a5e3a" stroke-width="0.5" stroke-opacity="0.5"/>
<path d="M799.9,150.5 L800.3,149.2 L800.7,147.6 L801.2,145.7 L801.8,143.6 L802.4,141.3 L803.1,138.8 L803.7,136.4 L804.3,133.9 L805.0,131.5 L805.5,129.3 L806.0,127.3 L806.4,125.5 L806.7,123.9 L806.9,122.4 L807.0,121.0 L807.2,119.6 L807.3,118.4 L807.4,117.2 L807.4,116.1 L807.4,115.1 L807.5,114.3 L807.5,113.5 L807.5,112.8 L807.5,112.2 L804.5,111.8 L804.3,112.4 L804.2,113.1 L804.0,113.8 L803.8,114.7 L803.6,115.6 L803.4,116.7 L803.2,117.8 L802.9,119.0 L802.6,120.2 L802.3,121.6 L801.9,123.0 L801.6,124.5 L801.2,126.2 L800.8,128.2 L800.3,130.4 L799.8,132.8 L799.3,135.3 L798.7,137.8 L798.1,140.2 L797.6,142.6 L797.1,144.7 L796.7,146.6 L796.3,148.3 L796.1,149.5Z" fill="#5c8a4c" stroke="#4a5e3a" stroke-width="0.5" stroke-opacity="0.5"/>
<path d="M779.9,149.2 L781.0,149.8 L782.2,150.7 L783.7,151.7 L785.4,152.9 L787.2,154.2 L789.2,155.6 L791.2,156.9 L793.2,158.3 L795.3,159.6 L797.3,160.9 L799.3,162.0 L801.1,163.0 L802.8,163.8 L804.5,164.6 L806.1,165.2 L807.7,165.8 L809.2,166.4 L810.8,166.9 L812.3,167.4 L814.0,167.9 L815.6,168.4 L817.4,168.8 L819.2,169.3 L821.2,169.9 L823.3,170.5 L825.7,171.1 L828.2,171.7 L830.8,172.3 L833.4,172.9 L836.1,173.6 L838.8,174.2 L841.3,174.7 L843.8,175.3 L846.1,175.8 L848.3,176.2 L850.1,176.6 L851.8,177.0 L853.4,177.3 L854.8,177.6 L856.1,177.8 L857.3,178.0 L858.4,178.1 L859.4,178.3 L860.3,178.4 L861.1,178.5 L861.8,178.6 L862.4,178.7 L863.0,178.8 L863.6,174.8 L863.1,174.7 L862.4,174.6 L861.7,174.5 L860.9,174.3 L860.0,174.2 L859.1,174.0 L858.0,173.8 L856.9,173.6 L855.6,173.3 L854.2,173.1 L852.7,172.7 L851.1,172.4 L849.2,171.9 L847.1,171.5 L844.8,170.9 L842.3,170.3 L839.8,169.7 L837.1,169.1 L834.5,168.5 L831.9,167.8 L829.3,167.2 L826.8,166.5 L824.5,165.9 L822.4,165.3 L820.5,164.7 L818.7,164.2 L817.0,163.7 L815.4,163.2 L813.8,162.7 L812.3,162.2 L810.9,161.7 L809.4,161.2 L808.0,160.6 L806.6,159.9 L805.0,159.2 L803.5,158.4 L801.8,157.5 L800.0,156.4 L798.1,155.2 L796.1,153.9 L794.2,152.6 L792.2,151.2 L790.3,149.8 L788.5,148.5 L786.8,147.3 L785.3,146.3 L784.1,145.3 L783.1,144.6Z" fill="#5e5c3a" />
<path d="M781.2,146.3 L781.7,146.7 L782.2,147.1 L782.9,147.6 L783.6,148.1 L784.4,148.7 L785.2,149.3 L786.1,150.0 L787.0,150.6 L787.9,151.3 L788.8,152.0 L789.7,152.6 L790.5,153.3 L791.3,154.0 L792.2,154.7 L793.2,155.5 L794.1,156.4 L795.1,157.2 L796.1,158.1 L797.1,158.9 L798.0,159.7 L798.8,160.5 L799.5,161.1 L800.1,161.7 L800.6,162.2 L805.4,155.8 L804.8,155.5 L804.1,155.1 L803.2,154.6 L802.3,154.0 L801.2,153.3 L800.1,152.7 L799.0,152.0 L797.9,151.3 L796.7,150.6 L795.6,149.9 L794.5,149.3 L793.5,148.7 L792.5,148.2 L791.5,147.7 L790.5,147.1 L789.4,146.6 L788.4,146.1 L787.4,145.7 L786.4,145.2 L785.5,144.8 L784.7,144.5 L783.9,144.2 L783.3,143.9 L782.8,143.7Z" fill="#7f7c4c" />
<path d="M827.0,168.0 L826.9,167.7 L826.8,167.2 L826.8,166.7 L826.7,166.1 L826.6,165.4 L826.6,164.7 L826.5,163.9 L826.4,163.1 L826.3,162.3 L826.2,161.5 L826.1,160.6 L826.0,159.8 L825.9,159.0 L825.7,158.1 L825.5,157.2 L825.4,156.2 L825.2,155.2 L825.0,154.2 L824.8,153.3 L824.6,152.4 L824.4,151.6 L824.3,150.9 L824.1,150.3 L824.0,149.8 L820.0,150.2 L820.0,150.7 L820.0,151.4 L820.0,152.1 L820.0,152.9 L820.0,153.8 L820.0,154.8 L820.0,155.7 L820.1,156.7 L820.1,157.7 L820.1,158.6 L820.0,159.4 L820.0,160.2 L820.0,160.9 L819.9,161.6 L819.8,162.4 L819.7,163.1 L819.7,163.9 L819.6,164.6 L819.5,165.3 L819.4,165.9 L819.3,166.5 L819.2,167.1 L819.1,167.6 L819.0,168.0Z" fill="#77744a" />
<path d="M853.5,174.6 L853.4,174.2 L853.2,173.6 L853.1,172.9 L852.9,172.2 L852.8,171.3 L852.6,170.4 L852.4,169.5 L852.3,168.6 L852.1,167.6 L851.9,166.6 L851.8,165.7 L851.6,164.8 L851.5,163.8 L851.3,162.8 L851.1,161.7 L851.0,160.5 L850.8,159.3 L850.6,158.2 L850.5,157.1 L850.3,156.0 L850.1,155.0 L850.0,154.2 L849.9,153.4 L849.7,152.9 L846.3,153.1 L846.2,153.7 L846.2,154.5 L846.2,155.4 L846.2,156.4 L846.2,157.4 L846.3,158.6 L846.3,159.7 L846.3,160.9 L846.3,162.1 L846.4,163.2 L846.4,164.3 L846.4,165.2 L846.4,166.2 L846.4,167.2 L846.4,168.2 L846.5,169.1 L846.5,170.1 L846.5,171.1 L846.5,172.0 L846.5,172.8 L846.6,173.6 L846.6,174.3 L846.5,174.9 L846.5,175.4Z" fill="#77744a" />
</g>
<g>
<path d="M761.4,413.8 L761.5,414.2 L761.6,414.8 L761.8,415.5 L762.0,416.3 L762.1,417.1 L762.3,418.0 L762.5,418.9 L762.8,419.8 L763.0,420.7 L763.2,421.6 L763.5,422.5 L763.8,423.2 L764.1,423.9 L764.4,424.7 L764.8,425.5 L765.2,426.2 L765.6,427.0 L766.0,427.7 L766.4,428.4 L766.7,429.1 L767.1,429.7 L767.4,430.2 L767.6,430.7 L767.9,431.1" fill="none" stroke="#cdcabb" stroke-width="1.1" stroke-linecap="round" stroke-linejoin="round" opacity="0.9"/>
<path d="M792.8,409.1 L793.1,409.6 L793.5,410.2 L794.0,410.9 L794.5,411.8 L795.0,412.7 L795.6,413.6 L796.2,414.5 L796.8,415.5 L797.4,416.4 L798.0,417.2 L798.6,417.9 L799.1,418.5 L799.6,419.0 L800.0,419.4 L800.3,419.8 L800.7,420.1 L801.0,420.4 L801.4,420.7 L801.8,420.9 L802.2,421.1 L802.8,421.2 L803.5,421.4 L804.4,421.5 L805.4,421.6 L806.7,421.8 L808.2,421.8 L810.0,421.9 L811.9,421.9 L813.9,421.9 L816.0,421.8 L818.0,421.8 L820.0,421.8 L821.8,421.7 L823.4,421.7 L824.8,421.7 L825.8,421.6" fill="none" stroke="#cdcabb" stroke-width="1.1" stroke-linecap="round" stroke-linejoin="round" opacity="0.9"/>
<path d="M810.1,404.4 L810.3,405.0 L810.6,405.7 L811.0,406.6 L811.4,407.6 L811.8,408.6 L812.3,409.8 L812.7,410.9 L813.2,412.2 L813.6,413.4 L814.1,414.6 L814.5,415.8 L814.8,416.9 L815.1,418.1 L815.5,419.4 L815.8,420.7 L816.1,422.0 L816.4,423.4 L816.7,424.8 L816.9,426.1 L817.2,427.3 L817.4,428.5 L817.6,429.5 L817.8,430.4 L818.0,431.1" fill="none" stroke="#cdcabb" stroke-width="1.1" stroke-linecap="round" stroke-linejoin="round" opacity="0.9"/>
<path d="M838.4,401.2 L838.4,402.0 L838.5,402.9 L838.6,404.0 L838.7,405.3 L838.8,406.7 L839.0,408.1 L839.1,409.6 L839.2,411.1 L839.4,412.6 L839.6,414.1 L839.8,415.6 L839.9,416.9 L840.2,418.3 L840.4,419.7 L840.7,421.2 L841.0,422.7 L841.3,424.3 L841.6,425.8 L841.9,427.2 L842.2,428.6 L842.5,429.8 L842.7,430.9 L842.9,431.9 L843.1,432.6" fill="none" stroke="#cdcabb" stroke-width="1.1" stroke-linecap="round" stroke-linejoin="round" opacity="0.9"/>
<path d="M763.8,421.6 L763.6,422.0 L763.3,422.6 L763.0,423.2 L762.6,424.0 L762.2,424.8 L761.8,425.6 L761.4,426.4 L761.0,427.2 L760.6,427.9 L760.3,428.5 L760.0,429.1 L759.8,429.5" fill="none" stroke="#cdcabb" stroke-width="1.1" stroke-linecap="round" stroke-linejoin="round" opacity="0.9"/>
<path d="M839.9,420.1 L839.8,420.6 L839.6,421.2 L839.3,422.0 L839.0,422.9 L838.7,423.8 L838.4,424.8 L838.0,425.8 L837.7,426.7 L837.4,427.6 L837.2,428.4 L837.0,429.0 L836.8,429.5" fill="none" stroke="#cdcabb" stroke-width="1.1" stroke-linecap="round" stroke-linejoin="round" opacity="0.9"/>
<path d="M803.8,420.1 L803.6,420.4 L803.3,420.8 L802.9,421.3 L802.4,421.9 L802.0,422.6 L801.5,423.2 L801.0,423.9 L800.5,424.5 L800.1,425.1 L799.7,425.6 L799.3,426.0 L799.1,426.4" fill="none" stroke="#cdcabb" stroke-width="1.1" stroke-linecap="round" stroke-linejoin="round" opacity="0.9"/>
<path d="M761.9,395.5 L762.4,394.5 L763.0,393.1 L763.7,391.6 L764.5,389.8 L765.4,387.9 L766.3,385.9 L767.3,383.8 L768.3,381.6 L769.2,379.5 L770.2,377.4 L771.1,375.4 L771.9,373.4 L772.7,371.6 L773.6,369.7 L774.4,367.8 L775.2,365.9 L776.1,364.0 L776.9,362.0 L777.7,360.2 L778.4,358.3 L779.2,356.5 L779.9,354.7 L780.5,353.0 L781.2,351.3 L781.7,349.6 L782.2,348.0 L782.7,346.3 L783.2,344.7 L783.6,343.1 L784.0,341.6 L784.4,340.1 L784.7,338.7 L785.0,337.5 L785.2,336.4 L785.5,335.4 L785.7,334.7 L784.3,334.3 L784.0,335.1 L783.8,336.0 L783.5,337.1 L783.2,338.4 L782.8,339.7 L782.4,341.1 L782.0,342.6 L781.5,344.2 L781.0,345.8 L780.5,347.4 L779.9,349.0 L779.4,350.6 L778.7,352.3 L778.0,353.9 L777.3,355.7 L776.5,357.5 L775.7,359.3 L774.9,361.2 L774.1,363.1 L773.2,365.0 L772.3,366.9 L771.5,368.8 L770.6,370.6 L769.7,372.5 L768.9,374.4 L767.9,376.4 L767.0,378.4 L766.0,380.6 L765.0,382.7 L764.0,384.8 L763.0,386.8 L762.1,388.7 L761.2,390.4 L760.5,392.0 L759.8,393.3 L759.3,394.3Z" fill="#6c9a4a" />
<path d="M762.9,394.3 L763.6,393.8 L764.5,393.1 L765.6,392.3 L766.8,391.4 L768.0,390.4 L769.4,389.4 L770.8,388.3 L772.2,387.2 L773.7,386.1 L775.1,385.1 L776.4,384.1 L777.7,383.1 L778.9,382.2 L780.2,381.2 L781.5,380.2 L782.9,379.2 L784.2,378.2 L785.6,377.2 L786.8,376.3 L788.0,375.4 L789.1,374.5 L790.1,373.8 L790.9,373.2 L791.6,372.7 L790.9,371.7 L790.2,372.1 L789.3,372.7 L788.3,373.4 L787.2,374.2 L786.0,375.1 L784.7,376.0 L783.3,376.9 L781.9,377.9 L780.6,378.9 L779.2,379.8 L777.8,380.8 L776.6,381.6 L775.3,382.5 L773.9,383.5 L772.5,384.5 L771.1,385.6 L769.6,386.6 L768.1,387.7 L766.8,388.7 L765.4,389.6 L764.2,390.5 L763.1,391.2 L762.2,391.9 L761.5,392.4Z" fill="#86ad5c" />
<path d="M821.8,379.2 L821.8,378.1 L821.7,376.7 L821.7,375.1 L821.6,373.4 L821.5,371.4 L821.4,369.4 L821.3,367.2 L821.2,364.9 L821.1,362.6 L821.0,360.3 L820.9,357.9 L820.8,355.6 L820.7,353.3 L820.6,350.9 L820.6,348.4 L820.5,345.8 L820.5,343.1 L820.4,340.4 L820.3,337.7 L820.1,335.0 L819.9,332.2 L819.7,329.5 L819.4,326.8 L819.0,324.1 L818.4,321.3 L817.8,318.4 L817.0,315.4 L816.2,312.4 L815.3,309.3 L814.4,306.3 L813.5,303.5 L812.6,300.7 L811.8,298.2 L811.1,296.0 L810.5,294.1 L810.1,292.6 L808.6,293.1 L809.0,294.6 L809.6,296.5 L810.2,298.7 L811.0,301.3 L811.8,304.0 L812.7,306.9 L813.5,309.8 L814.4,312.9 L815.2,315.9 L815.9,318.9 L816.5,321.7 L816.9,324.4 L817.3,327.0 L817.6,329.7 L817.8,332.4 L817.9,335.1 L818.0,337.8 L818.1,340.5 L818.1,343.2 L818.1,345.8 L818.1,348.4 L818.1,350.9 L818.2,353.4 L818.2,355.7 L818.3,358.0 L818.4,360.4 L818.4,362.7 L818.5,365.0 L818.6,367.3 L818.6,369.5 L818.6,371.5 L818.7,373.5 L818.7,375.2 L818.7,376.8 L818.8,378.2 L818.8,379.3Z" fill="#6a9848" />
<path d="M818.7,331.5 L818.4,331.0 L818.0,330.5 L817.6,329.8 L817.1,329.0 L816.5,328.1 L816.0,327.2 L815.4,326.3 L814.8,325.4 L814.1,324.5 L813.5,323.6 L812.9,322.8 L812.4,322.1 L811.8,321.5 L811.2,320.9 L810.5,320.3 L809.9,319.8 L809.3,319.2 L808.6,318.8 L808.0,318.3 L807.5,317.9 L806.9,317.6 L806.5,317.2 L806.1,317.0 L805.8,316.7 L805.0,317.7 L805.3,317.9 L805.7,318.3 L806.1,318.6 L806.6,319.0 L807.1,319.5 L807.7,319.9 L808.3,320.4 L808.8,321.0 L809.4,321.5 L810.0,322.1 L810.5,322.7 L811.0,323.3 L811.5,323.9 L812.0,324.7 L812.5,325.5 L813.1,326.4 L813.6,327.4 L814.1,328.3 L814.7,329.2 L815.1,330.1 L815.6,330.9 L816.0,331.6 L816.3,332.3 L816.6,332.8Z" fill="#8ab462" />
<path d="M823.9,373.4 L824.3,372.2 L824.8,370.6 L825.4,368.9 L826.1,366.9 L826.8,364.7 L827.6,362.4 L828.4,360.0 L829.3,357.6 L830.2,355.1 L831.1,352.7 L832.0,350.4 L833.0,348.2 L834.0,346.0 L835.2,343.7 L836.4,341.2 L837.7,338.7 L839.1,336.2 L840.5,333.7 L841.8,331.3 L843.1,329.0 L844.2,327.0 L845.3,325.1 L846.1,323.5 L846.8,322.2 L845.6,321.6 L844.9,322.8 L844.0,324.4 L842.9,326.2 L841.7,328.3 L840.4,330.5 L839.0,332.9 L837.6,335.4 L836.2,337.9 L834.8,340.4 L833.5,342.8 L832.3,345.2 L831.2,347.4 L830.2,349.6 L829.2,352.0 L828.2,354.4 L827.2,356.8 L826.3,359.2 L825.4,361.6 L824.6,363.9 L823.8,366.1 L823.1,368.1 L822.4,369.8 L821.9,371.3 L821.4,372.5Z" fill="#7fa858" />
<path d="M849.9,379.3 L849.9,378.2 L850.0,376.8 L850.1,375.2 L850.3,373.3 L850.4,371.3 L850.6,369.2 L850.7,367.0 L850.8,364.7 L850.8,362.3 L850.8,360.0 L850.7,357.8 L850.5,355.6 L850.2,353.4 L849.8,351.2 L849.4,348.9 L849.0,346.5 L848.5,344.2 L847.9,341.9 L847.3,339.5 L846.7,337.2 L846.0,335.0 L845.4,332.8 L844.6,330.7 L843.9,328.7 L843.1,326.7 L842.2,324.7 L841.1,322.7 L840.1,320.8 L839.0,318.9 L837.9,317.1 L836.8,315.4 L835.7,313.8 L834.8,312.3 L833.9,311.0 L833.2,309.9 L832.7,309.0 L831.5,309.7 L832.1,310.6 L832.8,311.8 L833.6,313.1 L834.5,314.6 L835.5,316.2 L836.5,317.9 L837.6,319.7 L838.7,321.6 L839.7,323.5 L840.6,325.4 L841.5,327.4 L842.3,329.3 L842.9,331.3 L843.6,333.3 L844.3,335.5 L844.9,337.7 L845.5,340.0 L846.0,342.3 L846.5,344.6 L847.0,346.9 L847.4,349.2 L847.7,351.5 L848.0,353.7 L848.3,355.8 L848.4,357.9 L848.5,360.1 L848.5,362.3 L848.4,364.6 L848.3,366.8 L848.2,369.0 L848.0,371.2 L847.8,373.1 L847.6,375.0 L847.5,376.6 L847.3,378.0 L847.3,379.2Z" fill="#5e8a44" />
<path d="M851.3,377.9 L851.6,376.4 L851.9,374.6 L852.2,372.5 L852.6,370.2 L853.0,367.6 L853.5,364.9 L854.0,362.1 L854.5,359.2 L855.0,356.3 L855.5,353.4 L856.0,350.6 L856.5,348.0 L857.1,345.3 L857.7,342.5 L858.3,339.5 L858.9,336.5 L859.6,333.4 L860.3,330.4 L860.9,327.5 L861.5,324.8 L862.1,322.2 L862.6,320.0 L863.0,318.1 L863.3,316.5 L862.1,316.3 L861.8,317.8 L861.3,319.7 L860.7,321.9 L860.1,324.5 L859.5,327.2 L858.8,330.1 L858.1,333.1 L857.4,336.1 L856.7,339.2 L856.0,342.1 L855.3,345.0 L854.8,347.6 L854.2,350.3 L853.6,353.1 L853.1,355.9 L852.5,358.8 L852.0,361.7 L851.4,364.5 L850.9,367.2 L850.4,369.8 L850.0,372.1 L849.6,374.2 L849.2,376.0 L849.0,377.4Z" fill="#86b05e" />
<path d="M850.4,363.6 L850.4,362.2 L850.5,360.4 L850.5,358.2 L850.7,355.7 L850.8,353.0 L850.9,350.2 L851.0,347.5 L851.1,344.8 L851.2,342.3 L851.3,340.1 L851.4,338.2 L851.4,336.9 L850.4,336.8 L850.3,338.2 L850.2,340.0 L850.0,342.2 L849.8,344.7 L849.6,347.4 L849.4,350.1 L849.2,352.9 L849.0,355.6 L848.8,358.1 L848.6,360.3 L848.5,362.1 L848.4,363.5Z" fill="#7aa052" />
<path d="M761.2,409.2 L761.1,408.6 L761.1,407.9 L761.1,407.1 L761.1,406.2 L761.1,405.2 L761.1,404.2 L761.1,403.1 L761.2,402.1 L761.2,401.0 L761.3,400.1 L761.4,399.2 L761.5,398.4 L761.6,397.7 L761.8,397.0 L762.0,396.2 L762.2,395.5 L762.5,394.8 L762.8,394.1 L763.0,393.4 L763.3,392.7 L763.5,392.1 L763.8,391.6 L764.0,391.1 L764.1,390.7 L761.9,389.8 L761.7,390.1 L761.5,390.5 L761.2,391.0 L760.9,391.6 L760.5,392.2 L760.2,392.9 L759.8,393.6 L759.4,394.4 L759.1,395.2 L758.8,396.0 L758.5,396.9 L758.2,397.7 L758.0,398.7 L757.9,399.7 L757.7,400.7 L757.6,401.8 L757.5,402.9 L757.4,404.0 L757.3,405.0 L757.2,406.0 L757.2,407.0 L757.1,407.8 L757.0,408.4 L757.0,409.0Z" fill="#5d6a38" />
<path d="M818.4,398.6 L818.5,397.9 L818.7,397.1 L818.8,396.2 L819.0,395.1 L819.2,394.0 L819.4,392.8 L819.7,391.6 L819.9,390.4 L820.2,389.2 L820.5,388.1 L820.8,387.0 L821.1,386.1 L821.4,385.3 L821.8,384.4 L822.2,383.5 L822.7,382.5 L823.2,381.7 L823.7,380.8 L824.2,380.0 L824.6,379.2 L825.1,378.4 L825.5,377.8 L825.8,377.2 L826.0,376.7 L824.0,375.5 L823.7,375.9 L823.3,376.4 L822.9,377.0 L822.4,377.7 L821.8,378.4 L821.3,379.3 L820.7,380.1 L820.1,381.0 L819.5,382.0 L819.0,382.9 L818.4,383.9 L818.0,384.9 L817.6,386.0 L817.2,387.1 L816.8,388.3 L816.4,389.5 L816.1,390.7 L815.8,392.0 L815.5,393.2 L815.2,394.3 L814.9,395.3 L814.7,396.3 L814.5,397.0 L814.3,397.6Z" fill="#5d6a38" />
<path d="M847.5,395.2 L847.6,394.7 L847.6,393.9 L847.7,393.1 L847.8,392.2 L847.8,391.1 L847.9,390.1 L848.0,389.0 L848.2,387.9 L848.3,386.9 L848.4,385.9 L848.5,385.1 L848.6,384.3 L848.7,383.7 L848.9,383.0 L849.1,382.4 L849.2,381.8 L849.4,381.2 L849.6,380.7 L849.8,380.2 L850.0,379.7 L850.1,379.2 L850.3,378.8 L850.4,378.4 L850.5,378.1 L848.3,377.2 L848.1,377.5 L847.9,377.8 L847.7,378.1 L847.5,378.6 L847.2,379.0 L847.0,379.6 L846.7,380.1 L846.4,380.7 L846.1,381.4 L845.9,382.1 L845.6,382.8 L845.4,383.6 L845.2,384.4 L845.0,385.3 L844.8,386.4 L844.6,387.4 L844.4,388.5 L844.2,389.6 L844.0,390.7 L843.9,391.7 L843.7,392.6 L843.6,393.4 L843.5,394.1 L843.4,394.7Z" fill="#5d6a38" />
<path d="M737.9,420.9 L738.8,420.3 L740.0,419.7 L741.3,418.9 L742.8,417.9 L744.4,417.0 L746.2,415.9 L748.1,414.9 L750.0,413.9 L752.0,412.9 L754.1,412.1 L756.2,411.3 L758.3,410.6 L760.4,410.2 L762.7,409.8 L765.1,409.5 L767.6,409.2 L770.2,409.0 L772.8,408.9 L775.4,408.7 L778.0,408.6 L780.7,408.4 L783.2,408.2 L785.7,407.9 L788.1,407.5 L790.4,407.0 L792.7,406.5 L794.8,406.0 L797.0,405.4 L799.1,404.7 L801.2,404.1 L803.3,403.4 L805.5,402.8 L807.7,402.1 L810.0,401.5 L812.3,401.0 L814.8,400.4 L817.5,399.9 L820.4,399.5 L823.5,399.0 L826.8,398.5 L830.1,398.1 L833.4,397.6 L836.5,397.2 L839.6,396.9 L842.3,396.5 L844.8,396.2 L846.9,395.9 L848.6,395.7" fill="none" stroke="#9c5a2a" stroke-width="3.8" stroke-linecap="round" stroke-linejoin="round" opacity="1"/>
<path d="M739.4,420.1 L740.3,419.6 L741.3,418.9 L742.6,418.1 L743.9,417.3 L745.4,416.3 L747.0,415.3 L748.7,414.3 L750.5,413.4 L752.3,412.4 L754.3,411.6 L756.3,410.8 L758.3,410.2 L760.4,409.7 L762.6,409.3 L765.0,409.0 L767.5,408.7 L770.1,408.5 L772.7,408.4 L775.3,408.2 L778.0,408.0 L780.6,407.8 L783.2,407.6 L785.7,407.3 L788.1,406.9 L790.4,406.4 L792.7,405.9 L794.9,405.3 L797.0,404.7 L799.1,404.1 L801.3,403.4 L803.4,402.8 L805.6,402.1 L807.8,401.5 L810.0,400.9 L812.4,400.3 L814.8,399.8 L817.4,399.3 L820.3,398.9 L823.4,398.4 L826.6,397.9 L829.8,397.5 L833.0,397.1 L836.1,396.7 L839.0,396.3 L841.7,396.0 L844.1,395.7 L846.2,395.5 L847.8,395.3" fill="none" stroke="#c98a50" stroke-width="1.1" stroke-linecap="round" stroke-linejoin="round" opacity="0.8"/>
<ellipse cx="758.3" cy="410.6" rx="2.8" ry="2.1" fill="#6e3a1a"/>
<ellipse cx="788.1" cy="407.5" rx="2.8" ry="2.1" fill="#6e3a1a"/>
<ellipse cx="814.8" cy="400.4" rx="2.8" ry="2.1" fill="#6e3a1a"/>
<ellipse cx="846.2" cy="395.7" rx="2.8" ry="2.1" fill="#6e3a1a"/>
</g>
<g stroke-linecap="round" stroke-linejoin="round" fill="none">
<path d="M796.3,708.0 796.0,705.0 795.5,700.8 795.0,695.9 794.5,690.5 794.2,685.1 794.0,680.0 794.1,675.1 794.3,670.0 794.6,664.8 795.0,659.7 795.5,654.7 796.0,650.0 796.6,645.5 797.4,641.3 798.3,637.2 799.1,633.1 799.7,629.1 800.0,625.0 799.9,621.0 799.4,617.1 798.8,613.2 798.1,609.2 797.5,604.9 797.0,600.0 796.7,594.1 796.5,587.2 796.3,579.9 796.2,573.0 796.1,567.2 796.0,563.0" stroke="#434c2c" stroke-width="3.6"/>
<path d="M793.0,689.0 791.8,688.0 790.2,686.8 788.2,685.2 786.1,683.5 783.8,681.7 781.4,679.9 779.1,678.1 777.0,676.5 775.0,675.0 773.2,673.7 771.5,672.5 769.8,671.4 768.1,670.3 766.5,669.2 764.9,668.2 763.3,667.1 761.7,666.1 760.0,665.0 758.3,663.8 756.4,662.6 754.4,661.3 752.5,660.0 750.6,658.8 748.9,657.6 747.3,656.6 746.0,655.7 745.0,655.0 M795.0,664.0 794.0,663.0 792.7,661.8 791.2,660.2 789.5,658.5 787.7,656.7 785.8,654.9 783.8,653.1 781.9,651.5 780.0,650.0 778.1,648.7 776.1,647.5 774.1,646.4 772.0,645.3 769.9,644.2 767.8,643.2 765.8,642.1 763.8,641.1 762.0,640.0 760.2,638.8 758.4,637.6 756.5,636.3 754.7,635.0 753.0,633.8 751.5,632.6 750.1,631.6 748.9,630.7 748.0,630.0 M798.0,625.0 797.1,624.3 796.0,623.4 794.6,622.4 793.1,621.2 791.5,619.9 789.8,618.6 788.1,617.3 786.5,616.1 785.0,615.0 783.5,613.9 782.0,612.9 780.5,611.8 778.9,610.8 777.4,609.7 776.0,608.7 774.6,607.8 773.2,606.9 772.0,606.0 770.8,605.2 769.7,604.3 768.7,603.6 767.7,602.8 766.7,602.1 765.9,601.4 765.1,600.9 764.5,600.4 764.0,600.0 M797.0,600.0 796.4,599.5 795.6,598.7 794.6,597.9 793.6,596.9 792.4,595.9 791.3,594.9 790.1,593.9 789.0,592.9 788.0,592.0 787.0,591.1 786.0,590.2 785.0,589.3 783.9,588.4 783.0,587.6 782.0,586.8 781.2,586.1 780.5,585.5 780.0,585.0 M796.0,590.0 796.0,589.0 796.0,587.6 796.0,586.0 796.0,584.2 796.0,582.3 796.0,580.3 796.0,578.4 796.0,576.6 796.0,575.0 796.0,573.5 796.0,571.9 796.0,570.3 796.0,568.8 796.0,567.3 796.0,566.0 796.0,564.8 796.0,563.8 796.0,563.0 M795.0,690.0 796.0,689.4 797.3,688.6 798.8,687.8 800.5,686.8 802.3,685.7 804.2,684.4 806.2,683.1 808.1,681.6 810.0,680.0 811.9,678.2 813.9,676.2 815.9,674.1 818.0,671.9 820.0,669.5 822.1,667.1 824.1,664.7 826.1,662.3 828.0,660.0 829.9,657.6 831.8,655.0 833.8,652.3 835.7,649.6 837.5,646.9 839.2,644.5 840.7,642.3 842.0,640.4 843.0,639.0 M798.0,643.0 798.8,642.3 799.8,641.3 801.0,640.2 802.4,638.9 803.9,637.6 805.4,636.1 807.0,634.7 808.5,633.3 810.0,632.0 811.5,630.6 813.2,629.2 815.0,627.6 816.9,626.1 818.6,624.6 820.3,623.1 821.8,621.9 823.0,620.8 824.0,620.0 M799.0,611.0 799.9,610.4 801.0,609.5 802.4,608.5 803.9,607.4 805.6,606.2 807.3,605.0 808.9,603.9 810.5,602.9 812.0,602.0 813.4,601.2 815.0,600.5 816.5,599.9 818.1,599.2 819.5,598.7 820.9,598.1 822.2,597.7 823.2,597.3 824.0,597.0 M797.0,588.0 797.6,587.4 798.3,586.7 799.2,585.8 800.2,584.8 801.2,583.8 802.3,582.7 803.3,581.7 804.2,580.8 805.0,580.0 805.7,579.3 806.4,578.6 807.1,577.9 807.7,577.3 808.3,576.7 808.8,576.2 809.3,575.7 809.7,575.3 810.0,575.0 M796.0,700.0 797.1,699.7 798.4,699.2 800.1,698.7 801.9,698.1 803.9,697.5 805.9,697.0 808.0,696.5 810.0,696.2 812.0,696.0 814.0,696.0 816.2,696.3 818.5,696.6 820.9,697.0 823.1,697.5 825.3,698.0 827.2,698.4 828.8,698.8 830.0,699.0 M794.0,676.0 793.3,675.5 792.5,674.8 791.5,673.9 790.4,673.0 789.1,672.0 787.9,671.0 786.5,669.9 785.3,668.9 784.0,668.0 782.7,667.1 781.2,666.1 779.7,665.0 778.1,664.0 776.6,663.0 775.2,662.1 773.9,661.2 772.8,660.5 772.0,660.0 M797.0,655.0 798.0,654.6 799.4,654.1 801.1,653.4 802.9,652.7 804.9,652.0 806.8,651.3 808.7,650.7 810.5,650.3 812.0,650.0 813.4,649.9 814.8,650.0 816.1,650.2 817.3,650.5 818.5,650.9 819.6,651.2 820.5,651.6 821.4,651.8 822.0,652.0" stroke="#434c2c" stroke-width="3.0"/>
<path d="M791.8,688.0 779.5,690.7 M790.2,686.8 778.4,686.5 M790.2,686.8 788.5,679.4 M788.2,685.2 776.7,687.0 M788.2,685.2 787.6,676.5 M786.1,683.5 777.8,684.3 M786.1,683.5 783.6,675.7 M783.8,681.7 775.8,684.4 M783.8,681.7 781.9,674.6 M781.4,679.9 771.4,679.9 M781.4,679.9 779.7,671.3 M779.1,678.1 771.2,678.5 M779.1,678.1 777.3,668.7 M777.0,676.5 767.4,680.6 M777.0,676.5 778.1,667.1 M775.0,675.0 764.8,675.9 M775.0,675.0 774.4,664.6 M773.2,673.7 766.8,675.0 M773.2,673.7 773.2,664.8 M771.5,672.5 762.5,672.5 M771.5,672.5 771.5,662.4 M769.8,671.4 761.0,673.0 M769.8,671.4 770.2,662.9 M768.1,670.3 759.8,675.0 M768.1,670.3 765.1,661.8 M766.5,669.2 760.8,670.1 M766.5,669.2 764.6,661.0 M764.9,668.2 758.4,670.3 M764.9,668.2 763.3,662.1 M763.3,667.1 757.0,670.7 M763.3,667.1 761.0,661.6 M761.7,666.1 754.3,668.7 M761.7,666.1 760.7,660.2 M760.0,665.0 752.5,667.5 M760.0,665.0 759.4,656.5 M758.3,663.8 752.8,665.7 M758.3,663.8 756.0,655.9 M756.4,662.6 748.5,664.0 M756.4,662.6 755.7,657.7 M754.4,661.3 749.2,661.7 M754.4,661.3 755.0,654.9 M752.5,660.0 746.6,662.1 M752.5,660.0 752.8,652.5 M750.6,658.8 744.8,660.4 M750.6,658.8 750.0,652.8 M748.9,657.6 743.2,658.4 M748.9,657.6 747.1,651.7 M747.3,656.6 742.5,658.3 M747.3,656.6 746.1,652.0 M746.0,655.7 740.2,656.3 M746.0,655.7 746.2,651.0 M745.0,655.0 738.7,656.1 M794.0,663.0 782.1,663.5 M794.0,663.0 792.5,652.8 M792.7,661.8 784.8,660.5 M792.7,661.8 791.8,649.9 M791.2,660.2 791.8,648.9 M789.5,658.5 780.1,657.6 M787.7,656.7 777.4,659.1 M787.7,656.7 788.4,644.8 M785.8,654.9 774.5,655.4 M785.8,654.9 785.7,644.5 M783.8,653.1 774.4,656.4 M783.8,653.1 784.7,643.0 M781.9,651.5 774.4,653.5 M781.9,651.5 781.8,640.3 M780.0,650.0 770.8,649.8 M780.0,650.0 779.4,640.8 M778.1,648.7 769.0,650.1 M778.1,648.7 775.7,642.1 M776.1,647.5 770.5,650.8 M776.1,647.5 776.5,638.2 M774.1,646.4 767.5,648.5 M774.1,646.4 771.7,637.3 M772.0,645.3 765.8,646.8 M772.0,645.3 769.0,637.1 M769.9,644.2 763.3,645.8 M767.8,643.2 765.5,635.5 M765.8,642.1 759.9,644.4 M765.8,642.1 763.1,635.6 M763.8,641.1 756.3,644.1 M762.0,640.0 760.5,632.5 M760.2,638.8 754.6,641.0 M760.2,638.8 760.8,630.6 M758.4,637.6 752.3,638.7 M758.4,637.6 757.8,632.1 M756.5,636.3 756.0,629.7 M754.7,635.0 755.0,630.2 M753.0,633.8 747.9,634.2 M753.0,633.8 751.8,626.4 M751.5,632.6 744.7,633.7 M751.5,632.6 752.3,625.4 M750.1,631.6 744.8,632.4 M750.1,631.6 750.8,627.3 M748.9,630.7 748.7,624.1 M748.0,630.0 743.4,630.3 M748.0,630.0 746.7,623.8 M797.1,624.3 785.4,623.9 M797.1,624.3 797.3,616.1 M796.0,623.4 788.3,623.5 M796.0,623.4 794.3,614.1 M794.6,622.4 786.6,622.2 M794.6,622.4 795.6,614.2 M793.1,621.2 784.2,623.1 M793.1,621.2 791.9,611.4 M791.5,619.9 783.3,619.5 M791.5,619.9 792.2,612.5 M789.8,618.6 780.5,619.9 M789.8,618.6 790.5,611.9 M788.1,617.3 779.9,620.5 M788.1,617.3 787.6,608.3 M786.5,616.1 780.4,617.1 M786.5,616.1 784.2,609.0 M785.0,615.0 775.8,615.4 M785.0,615.0 782.7,606.3 M783.5,613.9 773.8,614.7 M783.5,613.9 781.8,604.4 M782.0,612.9 774.3,614.9 M782.0,612.9 779.4,604.2 M780.5,611.8 774.8,613.4 M780.5,611.8 780.2,603.3 M778.9,610.8 773.1,612.5 M777.4,609.7 768.5,610.4 M777.4,609.7 777.4,602.6 M776.0,608.7 768.9,610.3 M776.0,608.7 776.5,602.4 M774.6,607.8 767.5,608.9 M773.2,606.9 767.7,608.3 M773.2,606.9 772.0,599.3 M772.0,606.0 765.4,606.3 M770.8,605.2 765.3,607.4 M770.8,605.2 771.7,599.0 M769.7,604.3 763.8,605.2 M768.7,603.6 767.4,596.5 M767.7,602.8 762.6,605.1 M767.7,602.8 766.4,596.7 M766.7,602.1 760.0,602.8 M766.7,602.1 766.4,596.4 M765.9,601.4 761.1,601.8 M765.9,601.4 766.2,596.4 M765.1,600.9 759.4,602.5 M765.1,600.9 764.8,594.4 M764.5,600.4 759.0,602.3 M764.5,600.4 763.0,595.3 M764.0,600.0 760.4,600.1 M764.0,600.0 763.7,594.4 M796.4,599.5 790.3,600.5 M796.4,599.5 797.3,593.5 M795.6,598.7 786.3,601.1 M795.6,598.7 794.9,591.5 M794.6,597.9 787.0,597.9 M793.6,596.9 788.2,598.0 M793.6,596.9 793.2,588.5 M792.4,595.9 785.6,595.8 M792.4,595.9 792.1,590.5 M791.3,594.9 783.0,595.5 M791.3,594.9 792.3,587.4 M790.1,593.9 782.7,594.1 M790.1,593.9 790.4,589.0 M789.0,592.9 783.7,592.6 M789.0,592.9 788.4,588.2 M788.0,592.0 780.8,593.6 M788.0,592.0 788.3,587.3 M787.0,591.1 781.3,591.6 M787.0,591.1 787.6,585.2 M786.0,590.2 780.4,589.7 M786.0,590.2 787.1,584.6 M785.0,589.3 779.2,591.5 M785.0,589.3 784.2,583.1 M783.9,588.4 779.2,588.6 M783.9,588.4 782.6,583.3 M783.0,587.6 777.2,588.5 M783.0,587.6 783.5,582.2 M782.0,586.8 777.2,587.4 M782.0,586.8 781.7,582.9 M781.2,586.1 776.9,585.8 M780.5,585.5 775.7,586.1 M780.5,585.5 781.2,580.5 M780.0,585.0 775.3,585.9 M780.0,585.0 779.0,580.9 M796.0,589.0 790.5,583.8 M796.0,589.0 803.3,583.9 M796.0,587.6 790.6,581.8 M796.0,587.6 801.4,582.3 M796.0,586.0 791.0,579.5 M796.0,586.0 799.8,581.8 M796.0,584.2 802.1,578.8 M796.0,582.3 790.7,578.3 M796.0,582.3 800.3,579.3 M796.0,580.3 793.1,576.1 M796.0,580.3 801.0,575.4 M796.0,578.4 800.7,573.9 M796.0,576.6 791.7,572.3 M796.0,576.6 799.1,573.4 M796.0,575.0 793.3,571.7 M796.0,575.0 800.1,572.8 M796.0,573.5 792.1,571.4 M796.0,573.5 800.6,568.8 M796.0,571.9 790.8,568.9 M796.0,570.3 792.2,567.6 M796.0,570.3 798.8,567.9 M796.0,568.8 791.7,564.9 M796.0,568.8 799.6,564.2 M796.0,567.3 792.2,564.9 M796.0,567.3 799.3,564.3 M796.0,566.0 792.5,563.7 M796.0,566.0 798.9,564.1 M796.0,564.8 792.6,561.5 M796.0,564.8 798.8,561.5 M796.0,563.8 793.9,561.8 M796.0,563.0 793.8,561.0 M796.0,563.0 798.3,560.7 M796.0,689.4 795.4,678.5 M796.0,689.4 807.6,695.3 M797.3,688.6 801.7,678.4 M797.3,688.6 811.2,690.6 M798.8,687.8 800.4,678.9 M798.8,687.8 812.2,691.2 M800.5,686.8 803.9,675.1 M800.5,686.8 813.2,690.3 M802.3,685.7 813.8,688.7 M804.2,684.4 815.0,688.4 M806.2,683.1 818.7,683.1 M808.1,681.6 808.7,671.1 M808.1,681.6 816.2,681.7 M810.0,680.0 820.3,681.2 M811.9,678.2 811.4,668.8 M811.9,678.2 819.9,677.0 M813.9,676.2 813.3,669.0 M815.9,674.1 816.9,665.9 M815.9,674.1 827.3,674.6 M818.0,671.9 817.3,662.9 M818.0,671.9 825.2,671.0 M820.0,669.5 817.7,663.3 M820.0,669.5 828.1,669.0 M822.1,667.1 820.7,657.3 M822.1,667.1 831.6,666.0 M824.1,664.7 824.9,655.0 M826.1,662.3 823.7,654.0 M826.1,662.3 835.4,660.0 M828.0,660.0 828.3,653.6 M829.9,657.6 837.9,659.0 M831.8,655.0 837.5,654.5 M833.8,652.3 832.4,643.9 M833.8,652.3 840.4,650.5 M835.7,649.6 833.1,643.5 M835.7,649.6 843.5,647.8 M837.5,646.9 836.0,639.7 M837.5,646.9 843.5,646.2 M839.2,644.5 837.3,637.8 M840.7,642.3 840.1,636.8 M840.7,642.3 848.6,641.6 M842.0,640.4 840.1,635.2 M842.0,640.4 848.0,638.2 M843.0,639.0 841.2,632.0 M843.0,639.0 849.5,638.4 M798.8,642.3 809.6,642.7 M799.8,641.3 799.3,632.9 M801.0,640.2 802.6,631.1 M801.0,640.2 807.7,639.4 M802.4,638.9 800.9,630.3 M802.4,638.9 811.9,638.5 M803.9,637.6 813.1,637.8 M805.4,636.1 803.4,626.4 M805.4,636.1 811.4,638.2 M807.0,634.7 812.5,636.7 M808.5,633.3 807.6,627.8 M808.5,633.3 814.1,633.5 M810.0,632.0 810.1,625.7 M810.0,632.0 816.3,632.2 M811.5,630.6 812.4,624.4 M813.2,629.2 814.0,623.5 M815.0,627.6 814.3,621.8 M815.0,627.6 819.6,629.0 M816.9,626.1 815.5,618.5 M816.9,626.1 821.9,626.0 M818.6,624.6 818.8,619.0 M818.6,624.6 823.4,624.5 M820.3,623.1 820.3,616.2 M820.3,623.1 826.1,623.5 M821.8,621.9 820.4,615.3 M821.8,621.9 826.4,621.4 M823.0,620.8 827.5,620.4 M824.0,620.0 823.1,615.0 M824.0,620.0 827.8,621.3 M799.9,610.4 799.8,603.6 M799.9,610.4 807.9,611.6 M801.0,609.5 801.2,602.1 M801.0,609.5 806.9,610.7 M802.4,608.5 803.0,601.4 M802.4,608.5 811.1,609.5 M803.9,607.4 802.6,598.7 M803.9,607.4 809.5,609.5 M805.6,606.2 807.0,598.3 M805.6,606.2 813.1,606.3 M807.3,605.0 807.5,599.6 M807.3,605.0 815.3,607.3 M808.9,603.9 808.8,598.3 M808.9,603.9 814.6,604.8 M810.5,602.9 810.2,597.3 M810.5,602.9 816.0,603.9 M812.0,602.0 812.3,596.8 M812.0,602.0 817.6,605.3 M813.4,601.2 814.1,595.3 M813.4,601.2 820.3,604.0 M815.0,600.5 817.4,594.7 M815.0,600.5 819.1,602.2 M816.5,599.9 819.0,595.3 M816.5,599.9 821.4,602.8 M818.1,599.2 819.5,595.4 M818.1,599.2 824.1,601.6 M819.5,598.7 821.9,593.2 M819.5,598.7 823.6,601.1 M820.9,598.1 821.6,592.8 M820.9,598.1 825.5,600.4 M822.2,597.7 824.6,594.2 M822.2,597.7 827.3,599.6 M823.2,597.3 824.4,592.6 M823.2,597.3 827.0,599.5 M824.0,597.0 825.9,593.3 M824.0,597.0 828.4,598.7 M797.6,587.4 797.6,580.3 M797.6,587.4 803.4,587.2 M798.3,586.7 796.4,579.4 M798.3,586.7 802.8,587.4 M799.2,585.8 798.3,580.5 M799.2,585.8 805.4,586.4 M800.2,584.8 800.3,579.3 M800.2,584.8 805.0,585.6 M801.2,583.8 801.7,577.6 M801.2,583.8 805.4,583.2 M803.3,581.7 803.7,577.2 M803.3,581.7 808.6,581.5 M804.2,580.8 804.4,576.8 M804.2,580.8 809.6,581.5 M805.0,580.0 804.7,575.2 M805.0,580.0 808.6,579.7 M805.7,579.3 804.4,574.0 M805.7,579.3 810.5,579.3 M806.4,578.6 807.0,574.7 M806.4,578.6 810.8,579.7 M807.1,577.9 806.6,574.5 M807.1,577.9 811.5,578.4 M807.7,577.3 807.4,573.5 M807.7,577.3 811.2,577.8 M808.3,576.7 812.9,576.5 M808.8,576.2 812.0,575.8 M809.3,575.7 808.6,572.8 M809.7,575.3 809.7,571.3 M809.7,575.3 812.3,575.7 M810.0,575.0 809.5,571.6 M797.1,699.7 803.3,703.1 M798.4,699.2 801.7,693.8 M798.4,699.2 804.6,704.5 M800.1,698.7 805.8,700.8 M801.9,698.1 803.0,692.8 M801.9,698.1 807.6,701.6 M803.9,697.5 806.4,693.0 M803.9,697.5 807.9,701.4 M805.9,697.0 812.7,700.5 M808.0,696.5 812.1,689.9 M808.0,696.5 814.3,701.6 M810.0,696.2 812.6,689.9 M810.0,696.2 816.0,699.2 M812.0,696.0 816.3,690.9 M816.2,696.3 821.9,692.0 M816.2,696.3 819.2,702.5 M818.5,696.6 823.0,691.6 M818.5,696.6 821.7,702.5 M820.9,697.0 824.2,694.7 M823.1,697.5 827.8,695.2 M823.1,697.5 825.5,702.0 M825.3,698.0 828.9,694.5 M827.2,698.4 829.4,703.6 M828.8,698.8 831.6,695.6 M828.8,698.8 831.8,702.3 M830.0,699.0 833.2,697.0 M793.3,675.5 793.8,670.0 M792.5,674.8 786.9,675.2 M792.5,674.8 793.2,669.0 M791.5,673.9 792.9,667.0 M790.4,673.0 783.7,672.9 M790.4,673.0 789.7,667.7 M789.1,672.0 782.4,673.8 M789.1,672.0 788.6,666.8 M787.9,671.0 781.6,672.4 M787.9,671.0 787.3,664.5 M786.5,669.9 780.2,672.3 M786.5,669.9 785.6,664.7 M785.3,668.9 781.2,670.6 M785.3,668.9 784.2,664.0 M784.0,668.0 779.8,668.1 M784.0,668.0 783.8,663.1 M782.7,667.1 777.7,669.3 M781.2,666.1 774.9,666.5 M781.2,666.1 781.0,661.1 M779.7,665.0 774.9,666.1 M779.7,665.0 779.8,661.2 M778.1,664.0 773.5,665.2 M776.6,663.0 771.3,663.4 M776.6,663.0 776.1,659.3 M775.2,662.1 769.9,662.2 M775.2,662.1 775.1,657.1 M773.9,661.2 770.4,663.1 M773.9,661.2 773.2,657.4 M772.8,660.5 769.8,661.5 M772.8,660.5 771.5,657.3 M772.0,660.0 769.1,660.3 M798.0,654.6 801.7,647.4 M798.0,654.6 805.7,657.7 M799.4,654.1 803.7,646.6 M799.4,654.1 805.8,659.2 M801.1,653.4 803.4,646.0 M801.1,653.4 806.6,656.5 M802.9,652.7 805.2,647.5 M802.9,652.7 808.7,655.3 M804.9,652.0 807.9,645.6 M804.9,652.0 810.5,655.9 M806.8,651.3 810.7,645.7 M808.7,650.7 812.0,644.3 M808.7,650.7 815.1,653.8 M810.5,650.3 814.4,645.4 M810.5,650.3 814.4,652.5 M812.0,650.0 815.6,645.3 M812.0,650.0 816.1,654.9 M813.4,649.9 815.3,645.6 M814.8,650.0 819.3,646.5 M814.8,650.0 818.3,654.5 M816.1,650.2 819.2,647.1 M816.1,650.2 818.0,655.8 M817.3,650.5 822.1,648.5 M818.5,650.9 823.1,648.0 M818.5,650.9 819.7,654.1 M819.6,651.2 823.4,649.7 M820.5,651.6 823.7,650.3 M821.4,651.8 825.0,649.5 M822.0,652.0 824.8,649.2 M822.0,652.0 822.8,655.5" stroke="#515b36" stroke-width="1.9"/>
<path d="M779.5,690.7 776.3,694.9 M779.5,690.7 774.7,688.2 M778.4,686.5 774.9,681.9 M788.5,679.4 789.4,676.9 M777.8,684.3 774.7,686.4 M777.8,684.3 775.5,682.1 M783.6,675.7 785.4,673.1 M775.8,684.4 773.5,687.7 M781.9,674.6 783.2,672.1 M771.4,679.9 768.7,682.0 M771.4,679.9 768.5,676.3 M771.2,678.5 769.1,677.1 M777.3,668.7 773.7,665.6 M777.3,668.7 779.6,664.8 M767.4,680.6 764.8,684.4 M778.1,667.1 776.9,664.4 M764.8,675.9 760.8,673.8 M774.4,664.6 777.0,662.2 M766.8,675.0 765.0,677.1 M766.8,675.0 763.9,673.7 M773.2,664.8 771.8,662.4 M762.5,672.5 760.2,674.9 M770.2,662.9 772.8,660.4 M759.8,675.0 756.0,673.9 M765.1,661.8 761.9,660.1 M765.1,661.8 766.6,658.5 M760.8,670.1 759.6,671.7 M760.8,670.1 758.9,668.5 M764.6,661.0 761.5,658.6 M758.4,670.3 756.7,673.1 M763.3,662.1 761.6,660.7 M763.3,662.1 764.5,659.9 M757.0,670.7 755.3,673.6 M757.0,670.7 754.1,669.9 M761.0,661.6 758.8,659.9 M761.0,661.6 761.3,659.8 M760.7,660.2 758.7,658.4 M760.7,660.2 761.7,658.2 M752.5,667.5 750.9,671.0 M752.5,667.5 749.5,665.7 M759.4,656.5 756.5,653.7 M748.5,664.0 745.5,662.9 M755.7,657.7 756.7,656.4 M755.0,654.9 756.6,652.9 M752.8,652.5 750.1,649.9 M744.8,660.4 742.8,659.0 M750.0,652.8 751.4,650.9 M743.2,658.4 741.4,660.4 M747.1,651.7 748.1,650.0 M742.5,658.3 741.8,659.8 M746.1,652.0 746.8,650.3 M738.7,656.1 737.2,658.8 M738.7,656.1 736.1,654.9 M782.1,663.5 778.2,666.9 M782.1,663.5 777.7,660.8 M784.8,660.5 782.1,662.3 M791.8,648.9 789.1,645.3 M791.8,648.9 794.2,646.5 M780.1,657.6 777.6,655.6 M788.4,644.8 792.7,641.6 M785.7,644.5 783.2,641.2 M785.7,644.5 788.4,640.9 M774.4,656.4 772.6,660.0 M774.4,653.5 772.5,655.4 M774.4,653.5 771.7,652.7 M770.8,649.8 768.9,647.4 M779.4,640.8 776.5,638.7 M769.0,650.1 766.3,648.1 M775.7,642.1 777.2,639.4 M770.5,650.8 767.4,650.2 M776.5,638.2 773.3,635.3 M767.5,648.5 766.4,650.5 M767.5,648.5 765.1,647.4 M765.5,635.5 763.3,634.1 M765.5,635.5 767.0,632.5 M759.9,644.4 758.8,647.1 M759.9,644.4 757.1,643.9 M763.1,635.6 760.6,634.7 M756.3,644.1 753.8,643.4 M760.5,632.5 758.5,631.2 M760.5,632.5 761.8,630.4 M754.6,641.0 753.2,643.3 M754.6,641.0 752.0,640.6 M760.8,630.6 758.8,628.4 M760.8,630.6 763.5,627.6 M752.3,638.7 750.8,640.4 M752.3,638.7 749.9,637.3 M755.0,630.2 753.4,628.4 M755.0,630.2 756.1,629.0 M751.8,626.4 753.5,623.5 M744.8,632.4 743.2,634.7 M744.8,632.4 743.1,631.7 M750.8,627.3 750.1,625.6 M748.7,624.1 747.5,622.2 M748.7,624.1 750.2,621.6 M743.4,630.3 742.3,631.6 M746.7,623.8 748.2,621.1 M785.4,623.9 781.9,620.7 M797.3,616.1 795.4,613.7 M788.3,623.5 785.4,625.7 M794.3,614.1 792.0,612.5 M786.6,622.2 784.2,620.1 M795.6,614.2 797.8,612.8 M784.2,623.1 782.6,625.9 M784.2,623.1 781.1,622.0 M791.9,611.4 789.1,608.7 M783.3,619.5 781.0,617.2 M792.2,612.5 794.2,610.3 M780.5,619.9 777.4,622.7 M780.5,619.9 777.7,617.3 M790.5,611.9 789.2,609.2 M779.9,620.5 778.2,622.9 M779.9,620.5 777.2,619.7 M780.4,617.1 778.6,619.6 M784.2,609.0 782.1,607.8 M784.2,609.0 785.5,605.8 M773.8,614.7 770.8,613.2 M781.8,604.4 779.4,602.4 M774.3,614.9 771.1,612.7 M779.4,604.2 776.5,603.0 M774.8,613.4 772.9,615.5 M780.2,603.3 777.5,600.5 M780.2,603.3 782.0,600.5 M773.1,612.5 771.1,611.5 M768.5,610.4 765.4,608.3 M776.5,602.4 774.5,600.1 M767.5,608.9 765.4,610.7 M767.7,608.3 766.5,609.9 M767.7,608.3 765.4,606.7 M772.0,599.3 769.4,597.4 M765.4,606.3 763.4,605.1 M765.3,607.4 764.5,609.0 M765.3,607.4 763.4,606.4 M771.7,599.0 770.4,596.4 M763.8,605.2 762.1,607.7 M763.8,605.2 762.1,604.0 M762.6,605.1 761.5,606.8 M766.4,596.7 768.0,594.2 M760.0,602.8 758.2,601.4 M766.4,596.4 765.0,595.0 M766.4,596.4 767.7,595.2 M761.1,601.8 759.5,600.1 M766.2,596.4 767.4,594.7 M764.8,594.4 763.1,593.1 M759.0,602.3 757.2,601.6 M760.4,600.1 759.3,601.0 M760.4,600.1 759.6,599.3 M763.7,594.4 762.6,592.8 M763.7,594.4 765.0,592.4 M790.3,600.5 788.5,599.6 M797.3,593.5 796.3,591.7 M786.3,601.1 783.8,604.6 M786.3,601.1 782.0,599.6 M794.9,591.5 792.8,588.4 M787.0,597.9 784.2,600.2 M787.0,597.9 784.0,595.6 M788.2,598.0 786.7,600.2 M793.2,588.5 791.0,586.6 M793.2,588.5 794.9,585.5 M785.6,595.8 782.9,597.9 M792.1,590.5 793.0,589.2 M783.0,595.5 780.8,594.0 M792.3,587.4 794.3,585.4 M782.7,594.1 780.6,592.6 M790.4,589.0 789.2,587.3 M790.4,589.0 791.6,587.8 M783.7,592.6 782.2,594.0 M783.7,592.6 782.6,591.2 M788.4,588.2 786.8,586.9 M780.8,593.6 779.0,596.2 M788.3,587.3 787.5,586.0 M788.3,587.3 789.6,585.8 M781.3,591.6 780.0,593.1 M781.3,591.6 779.4,590.4 M787.6,585.2 789.2,583.6 M780.4,589.7 779.0,588.4 M787.1,584.6 786.1,582.9 M787.1,584.6 789.4,582.9 M784.2,583.1 785.6,581.6 M779.2,588.6 777.7,587.8 M782.6,583.3 781.0,581.9 M777.2,588.5 774.8,587.2 M777.2,587.4 775.6,588.9 M781.7,582.9 782.2,581.8 M776.9,585.8 775.2,584.6 M775.7,586.1 774.6,587.5 M775.3,585.9 773.5,585.0 M790.5,583.8 786.8,584.2 M790.5,583.8 790.5,581.3 M803.3,583.9 804.2,581.3 M790.6,581.8 790.2,578.5 M791.0,579.5 788.4,578.9 M791.0,579.5 790.5,576.2 M799.8,581.8 800.0,579.8 M799.8,581.8 802.4,580.9 M802.1,578.8 802.1,575.5 M802.1,578.8 805.2,579.1 M790.7,578.3 787.6,579.0 M800.3,579.3 800.9,577.8 M800.3,579.3 802.6,579.4 M793.1,576.1 793.3,573.8 M800.7,573.9 800.5,571.9 M791.7,572.3 791.6,570.0 M799.1,573.4 799.0,571.9 M793.3,571.7 791.6,571.3 M793.3,571.7 793.3,570.0 M800.1,572.8 801.5,573.3 M792.1,571.4 790.6,571.8 M792.1,571.4 791.4,569.3 M800.6,568.8 800.7,566.3 M792.2,567.6 791.7,566.0 M798.8,567.9 800.3,568.0 M791.7,564.9 791.6,562.0 M799.6,564.2 799.8,561.5 M792.2,564.9 791.9,563.0 M799.3,564.3 801.3,564.0 M792.5,563.7 790.5,564.2 M798.9,564.1 799.4,563.2 M798.9,564.1 800.5,564.6 M793.9,561.8 792.7,561.7 M793.9,561.8 793.8,560.6 M793.8,561.0 792.6,561.2 M793.8,561.0 793.5,559.6 M798.3,560.7 798.6,559.3 M798.3,560.7 799.5,560.7 M795.4,678.5 797.8,675.4 M807.6,695.3 812.1,693.3 M801.7,678.4 800.3,673.1 M801.7,678.4 806.3,676.6 M811.2,690.6 815.7,688.0 M800.4,678.9 802.9,676.6 M812.2,691.2 815.1,695.8 M813.8,688.7 817.1,686.3 M813.8,688.7 816.9,692.0 M815.0,688.4 816.9,693.1 M808.7,671.1 806.0,668.4 M816.2,681.7 818.1,683.8 M820.3,681.2 822.8,679.0 M813.3,669.0 811.0,666.3 M816.9,665.9 814.8,663.7 M816.9,665.9 819.9,663.4 M827.3,674.6 831.6,671.8 M827.3,674.6 830.7,677.4 M817.3,662.9 815.1,661.2 M825.2,671.0 827.3,669.1 M825.2,671.0 827.4,672.8 M820.7,657.3 818.5,654.6 M820.7,657.3 823.1,654.3 M831.6,666.0 834.0,662.2 M831.6,666.0 835.5,668.2 M824.9,655.0 822.4,651.9 M823.7,654.0 820.8,652.5 M835.4,660.0 837.2,656.9 M835.4,660.0 838.2,661.3 M837.9,659.0 840.1,661.4 M837.5,654.5 839.4,652.8 M832.4,643.9 830.0,642.3 M833.1,643.5 834.2,641.3 M843.5,647.8 847.1,648.9 M843.5,646.2 845.9,647.6 M837.3,637.8 834.8,635.6 M848.0,638.2 849.3,636.3 M848.0,638.2 850.1,638.9 M841.2,632.0 838.2,630.4 M809.6,642.7 812.9,640.2 M799.3,632.9 797.1,631.3 M802.6,631.1 800.4,628.6 M800.9,630.3 798.7,628.5 M811.9,638.5 814.2,636.4 M811.9,638.5 815.6,641.4 M803.4,626.4 800.2,623.8 M812.5,636.7 814.7,635.5 M807.6,627.8 805.3,626.3 M814.1,633.5 815.8,635.1 M810.1,625.7 811.3,623.9 M816.3,632.2 817.9,633.7 M812.4,624.4 810.7,622.3 M814.0,623.5 812.5,621.9 M814.0,623.5 816.4,621.9 M814.3,621.8 815.4,619.6 M819.6,629.0 821.0,628.5 M815.5,618.5 817.1,616.6 M818.8,619.0 817.4,616.8 M818.8,619.0 820.0,617.4 M820.3,616.2 819.1,614.3 M820.3,616.2 822.8,613.8 M826.1,623.5 828.2,621.5 M826.1,623.5 828.1,625.5 M820.4,615.3 818.3,613.9 M820.4,615.3 821.2,613.2 M826.4,621.4 827.8,622.6 M827.5,620.4 829.1,621.5 M823.1,615.0 821.6,613.8 M823.1,615.0 824.2,613.7 M799.8,603.6 801.7,602.1 M807.9,611.6 810.3,609.5 M807.9,611.6 810.4,613.6 M801.2,602.1 799.4,599.7 M806.9,610.7 808.3,613.0 M811.1,609.5 813.4,611.4 M809.5,609.5 811.1,611.9 M813.1,606.3 815.4,603.5 M813.1,606.3 815.9,608.1 M807.5,599.6 809.4,598.1 M815.3,607.3 817.1,609.7 M814.6,604.8 816.7,603.4 M816.0,603.9 818.0,605.7 M812.3,596.8 811.2,595.3 M812.3,596.8 813.2,595.4 M817.6,605.3 819.8,605.1 M817.6,605.3 817.9,607.4 M820.3,604.0 821.1,606.1 M817.4,594.7 819.9,593.8 M819.1,602.2 821.0,601.1 M819.1,602.2 820.1,603.4 M821.4,602.8 823.2,602.3 M821.4,602.8 822.0,604.4 M824.1,601.6 826.2,601.0 M821.9,593.2 820.8,590.8 M821.9,593.2 823.9,592.1 M823.6,601.1 825.3,600.6 M823.6,601.1 823.9,602.9 M821.6,592.8 820.2,590.8 M821.6,592.8 823.7,591.2 M825.5,600.4 827.4,599.7 M824.6,594.2 826.1,593.9 M827.3,599.6 829.6,598.6 M827.0,599.5 827.3,601.1 M825.9,593.3 827.4,592.3 M828.4,598.7 830.3,598.3 M828.4,598.7 829.5,600.8 M797.6,580.3 795.8,577.7 M803.4,587.2 805.4,588.6 M796.4,579.4 794.7,577.8 M796.4,579.4 798.2,576.6 M798.3,580.5 799.3,578.8 M805.4,586.4 807.5,588.1 M800.3,579.3 798.3,577.4 M801.7,577.6 800.4,576.1 M805.4,583.2 806.3,581.7 M808.6,581.5 810.1,580.3 M808.6,581.5 810.0,582.4 M804.4,576.8 805.4,575.8 M808.6,579.7 810.0,578.8 M810.8,579.7 811.4,580.9 M811.5,578.4 813.4,577.2 M811.2,577.8 812.2,577.0 M812.0,575.8 812.9,575.0 M809.7,571.3 808.7,570.4 M809.7,571.3 810.7,570.4 M812.3,575.7 813.1,575.3 M809.5,571.6 808.4,570.8 M809.5,571.6 810.2,570.5 M803.3,703.1 806.7,702.4 M803.3,703.1 804.3,705.8 M801.7,693.8 803.6,693.4 M805.8,700.8 808.6,700.4 M805.8,700.8 807.0,702.3 M803.0,692.8 802.2,691.1 M803.0,692.8 804.6,691.1 M807.6,701.6 810.3,701.2 M807.6,701.6 808.3,703.6 M807.9,701.4 810.0,701.4 M812.1,689.9 815.5,689.5 M812.6,689.9 815.1,688.5 M816.0,699.2 818.8,698.7 M816.0,699.2 817.3,702.1 M816.3,690.9 816.0,688.7 M821.9,692.0 824.3,692.4 M819.2,702.5 821.5,703.7 M819.2,702.5 818.3,705.0 M823.0,691.6 822.9,689.3 M823.0,691.6 825.2,691.2 M821.7,702.5 823.4,703.6 M821.7,702.5 820.7,705.3 M824.2,694.7 825.5,694.7 M827.8,695.2 830.0,695.4 M828.9,694.5 829.5,692.6 M828.9,694.5 830.9,694.4 M829.4,703.6 828.8,705.8 M831.6,695.6 831.7,694.0 M831.8,702.3 833.5,702.8 M833.2,697.0 835.0,696.9 M793.8,670.0 795.4,668.4 M786.9,675.2 784.8,674.2 M793.2,669.0 791.8,667.1 M793.2,669.0 794.8,667.9 M792.9,667.0 791.0,664.2 M782.4,673.8 780.8,675.4 M782.4,673.8 780.0,672.3 M787.3,664.5 785.6,662.7 M785.6,664.7 783.5,663.3 M785.6,664.7 786.4,663.2 M781.2,670.6 780.6,672.0 M784.2,664.0 782.5,662.5 M784.2,664.0 785.4,662.0 M783.8,663.1 782.7,661.7 M777.7,669.3 777.1,670.9 M779.8,661.2 779.2,660.1 M773.5,665.2 772.6,666.7 M771.3,663.4 769.4,664.9 M776.1,659.3 775.0,658.1 M776.1,659.3 776.7,658.1 M769.9,662.2 767.7,660.9 M775.1,657.1 775.9,655.7 M770.4,663.1 769.8,664.3 M773.2,657.4 772.1,656.3 M769.8,661.5 769.2,662.4 M769.8,661.5 768.7,661.2 M771.5,657.3 770.6,656.7 M769.1,660.3 768.5,661.1 M801.7,647.4 804.4,646.2 M803.7,646.6 802.8,643.9 M803.7,646.6 807.4,645.1 M805.8,659.2 806.6,662.1 M803.4,646.0 802.4,642.7 M803.4,646.0 805.3,644.5 M806.6,656.5 808.1,658.8 M805.2,647.5 804.8,645.5 M805.2,647.5 807.0,646.2 M808.7,655.3 810.3,657.6 M810.5,655.9 813.3,655.6 M812.0,644.3 811.5,642.0 M815.1,653.8 818.2,653.4 M814.4,645.4 816.9,645.3 M815.6,645.3 815.7,643.0 M815.6,645.3 818.0,644.7 M816.1,654.9 818.5,655.6 M815.3,645.6 815.1,644.0 M819.3,646.5 822.2,646.1 M819.2,647.1 820.7,647.3 M823.1,648.0 825.3,648.5 M823.7,650.3 824.5,648.9 M825.0,649.5 826.3,649.5 M822.8,655.5 824.0,656.3" stroke="#515b36" stroke-width="1.5"/>
<path d="M790.2,686.8 789.3,683.1 M788.2,685.2 782.4,686.1 M786.1,683.5 784.8,679.6 M783.8,681.7 779.8,683.0 M783.8,681.7 782.9,678.2 M781.4,679.9 776.4,679.9 M781.4,679.9 780.6,675.6 M779.1,678.1 775.2,678.3 M779.1,678.1 778.2,673.4 M777.0,676.5 772.2,678.5 M777.0,676.5 777.5,671.8 M775.0,675.0 769.9,675.5 M775.0,675.0 774.7,669.8 M771.5,672.5 767.0,672.5 M769.8,671.4 765.4,672.2 M769.8,671.4 770.0,667.1 M768.1,670.3 764.0,672.6 M766.5,669.2 763.6,669.7 M764.9,668.2 764.1,665.2 M763.3,667.1 760.1,668.9 M760.0,665.0 756.2,666.3 M756.4,662.6 756.0,660.1 M754.4,661.3 754.7,658.1 M752.5,660.0 749.5,661.0 M750.6,658.8 747.7,659.6 M748.9,657.6 746.0,658.0 M748.9,657.6 748.0,654.6 M747.3,656.6 744.9,657.4 M745.0,655.0 741.8,655.5 M792.7,661.8 788.8,661.1 M792.7,661.8 792.3,655.8 M787.7,656.7 782.6,657.9 M783.8,653.1 779.1,654.7 M783.8,653.1 784.3,648.1 M780.0,650.0 775.4,649.9 M778.1,648.7 773.5,649.4 M778.1,648.7 776.9,645.4 M776.1,647.5 773.3,649.1 M776.1,647.5 776.3,642.8 M774.1,646.4 770.8,647.5 M762.0,640.0 761.3,636.2 M758.4,637.6 758.1,634.9 M750.1,631.6 747.4,632.0 M750.1,631.6 750.4,629.4 M748.0,630.0 747.3,626.9 M797.1,624.3 791.3,624.1 M793.1,621.2 788.7,622.1 M791.5,619.9 787.4,619.7 M791.5,619.9 791.8,616.2 M789.8,618.6 790.2,615.3 M788.1,617.3 787.9,612.8 M785.0,615.0 780.4,615.2 M783.5,613.9 782.7,609.2 M780.5,611.8 780.4,607.6 M774.6,607.8 771.0,608.3 M773.2,606.9 772.6,603.1 M772.0,606.0 768.7,606.2 M770.8,605.2 768.1,606.3 M770.8,605.2 771.3,602.1 M768.7,603.6 768.0,600.0 M767.7,602.8 765.1,603.9 M766.7,602.1 766.6,599.3 M765.9,601.4 763.5,601.6 M765.1,600.9 765.0,597.7 M796.4,599.5 796.8,596.5 M795.6,598.7 790.9,599.9 M793.6,596.9 793.4,592.7 M792.4,595.9 792.3,593.2 M791.3,594.9 791.8,591.2 M790.1,593.9 786.4,594.0 M789.0,592.9 786.4,592.8 M788.0,592.0 788.2,589.6 M787.0,591.1 784.2,591.4 M787.0,591.1 787.3,588.2 M786.0,590.2 783.2,590.0 M786.0,590.2 786.6,587.4 M785.0,589.3 782.1,590.4 M785.0,589.3 784.6,586.2 M783.0,587.6 780.1,588.0 M783.0,587.6 783.2,584.9 M782.0,586.8 779.6,587.1 M782.0,586.8 781.9,584.8 M780.5,585.5 778.1,585.8 M780.5,585.5 780.8,583.0 M780.0,585.0 777.7,585.5 M780.0,585.0 779.5,583.0 M796.0,589.0 793.3,586.4 M796.0,589.0 799.7,586.4 M796.0,587.6 798.7,585.0 M796.0,586.0 793.5,582.8 M796.0,586.0 797.9,583.9 M796.0,584.2 799.0,581.5 M796.0,582.3 793.3,580.3 M796.0,582.3 798.1,580.8 M796.0,578.4 798.3,576.2 M796.0,576.6 793.8,574.5 M796.0,575.0 794.6,573.3 M796.0,573.5 794.0,572.4 M796.0,573.5 798.3,571.1 M796.0,568.8 793.8,566.8 M796.0,567.3 794.1,566.1 M796.0,567.3 797.7,565.8 M796.0,566.0 797.5,565.1 M796.0,564.8 794.3,563.1 M796.0,564.8 797.4,563.2 M796.0,563.8 795.0,562.8 M796.0,563.0 797.2,561.8 M797.3,688.6 799.5,683.5 M798.8,687.8 805.5,689.5 M806.2,683.1 812.4,683.1 M808.1,681.6 808.4,676.4 M808.1,681.6 812.2,681.7 M810.0,680.0 815.2,680.6 M815.9,674.1 821.6,674.3 M818.0,671.9 821.6,671.4 M820.0,669.5 818.9,666.4 M820.0,669.5 824.1,669.3 M826.1,662.3 830.7,661.2 M831.8,655.0 834.7,654.7 M833.8,652.3 833.1,648.1 M833.8,652.3 837.1,651.4 M835.7,649.6 839.6,648.7 M837.5,646.9 840.5,646.6 M840.7,642.3 840.4,639.6 M840.7,642.3 844.7,642.0 M842.0,640.4 841.0,637.8 M842.0,640.4 845.0,639.3 M843.0,639.0 846.3,638.7 M801.0,640.2 801.8,635.7 M802.4,638.9 801.7,634.6 M805.4,636.1 808.4,637.2 M808.5,633.3 808.0,630.6 M808.5,633.3 811.3,633.4 M810.0,632.0 810.0,628.9 M813.2,629.2 813.6,626.3 M815.0,627.6 817.3,628.3 M818.6,624.6 818.7,621.8 M820.3,623.1 823.2,623.3 M821.8,621.9 824.1,621.7 M823.0,620.8 825.3,620.6 M824.0,620.0 825.9,620.7 M799.9,610.4 799.8,607.0 M799.9,610.4 803.9,611.0 M801.0,609.5 804.0,610.1 M802.4,608.5 802.7,605.0 M803.9,607.4 806.7,608.5 M807.3,605.0 811.3,606.2 M808.9,603.9 811.8,604.4 M812.0,602.0 812.2,599.4 M812.0,602.0 814.8,603.7 M813.4,601.2 816.9,602.6 M816.5,599.9 817.8,597.6 M816.5,599.9 819.0,601.3 M818.1,599.2 818.8,597.3 M819.5,598.7 820.7,595.9 M819.5,598.7 821.6,599.9 M820.9,598.1 823.2,599.3 M822.2,597.7 823.4,595.9 M822.2,597.7 824.7,598.6 M823.2,597.3 823.8,595.0 M797.6,587.4 800.5,587.3 M798.3,586.7 797.4,583.1 M798.3,586.7 800.6,587.1 M799.2,585.8 798.7,583.1 M799.2,585.8 802.3,586.1 M800.2,584.8 800.2,582.0 M800.2,584.8 802.6,585.2 M801.2,583.8 803.3,583.5 M803.3,581.7 803.5,579.4 M803.3,581.7 806.0,581.6 M804.2,580.8 806.9,581.1 M805.0,580.0 806.8,579.9 M806.4,578.6 808.6,579.1 M807.1,577.9 806.8,576.2 M807.1,577.9 809.3,578.2 M807.7,577.3 807.5,575.4 M808.3,576.7 810.6,576.6 M808.8,576.2 810.4,576.0 M809.7,575.3 809.7,573.3 M798.4,699.2 800.1,696.5 M801.9,698.1 802.4,695.5 M803.9,697.5 805.1,695.3 M810.0,696.2 811.3,693.0 M812.0,696.0 814.2,693.5 M816.2,696.3 819.0,694.1 M820.9,697.0 822.5,695.8 M828.8,698.8 830.2,697.2 M830.0,699.0 831.6,698.0 M793.3,675.5 793.6,672.7 M792.5,674.8 789.7,675.0 M791.5,673.9 792.2,670.5 M790.4,673.0 787.0,672.9 M790.4,673.0 790.0,670.3 M789.1,672.0 788.9,669.4 M787.9,671.0 787.6,667.7 M786.5,669.9 783.4,671.1 M786.5,669.9 786.1,667.3 M785.3,668.9 783.2,669.8 M785.3,668.9 784.7,666.5 M784.0,668.0 781.9,668.0 M784.0,668.0 783.9,665.5 M782.7,667.1 780.2,668.2 M781.2,666.1 781.1,663.6 M779.7,665.0 779.8,663.1 M775.2,662.1 775.1,659.6 M798.0,654.6 799.8,651.0 M799.4,654.1 802.6,656.7 M801.1,653.4 802.2,649.7 M801.1,653.4 803.8,655.0 M802.9,652.7 804.1,650.1 M808.7,650.7 810.4,647.5 M810.5,650.3 812.4,647.8 M810.5,650.3 812.4,651.4 M814.8,650.0 816.5,652.2 M816.1,650.2 817.6,648.7 M817.3,650.5 819.7,649.5 M819.6,651.2 821.5,650.5" stroke="#a3a872" stroke-width="0.9"/>
</g>
<g>
<defs><filter id="blur1" x="-10%" y="-50%" width="120%" height="200%"><feGaussianBlur stdDeviation="0.9"/></filter><filter id="blur2" x="-50%" y="-50%" width="200%" height="200%"><feGaussianBlur stdDeviation="1.6"/></filter><radialGradient id="pv1" gradientUnits="userSpaceOnUse" cx="777.7" cy="884.7" r="25.2"><stop offset="0" stop-color="#2f302c" stop-opacity="0.9"/><stop offset="0.4" stop-color="#4a4b45" stop-opacity="0.765"/><stop offset="1" stop-color="#e6e7da" stop-opacity="0"/></radialGradient><radialGradient id="pv2" gradientUnits="userSpaceOnUse" cx="823.5" cy="894.7" r="27.5"><stop offset="0" stop-color="#2f302c" stop-opacity="0.9"/><stop offset="0.4" stop-color="#4a4b45" stop-opacity="0.765"/><stop offset="1" stop-color="#e6e7da" stop-opacity="0"/></radialGradient><radialGradient id="pv3" gradientUnits="userSpaceOnUse" cx="819.5" cy="878.8" r="34.3"><stop offset="0" stop-color="#2f302c" stop-opacity="0.9"/><stop offset="0.4" stop-color="#4a4b45" stop-opacity="0.765"/><stop offset="1" stop-color="#e6e7da" stop-opacity="0"/></radialGradient><radialGradient id="pv4" gradientUnits="userSpaceOnUse" cx="754.8" cy="891.7" r="10.3"><stop offset="0" stop-color="#2f302c" stop-opacity="0.9"/><stop offset="0.4" stop-color="#4a4b45" stop-opacity="0.765"/><stop offset="1" stop-color="#e6e7da" stop-opacity="0"/></radialGradient><radialGradient id="pv5" gradientUnits="userSpaceOnUse" cx="762.8" cy="908.6" r="18.3"><stop offset="0" stop-color="#2f302c" stop-opacity="0.9"/><stop offset="0.4" stop-color="#4a4b45" stop-opacity="0.765"/><stop offset="1" stop-color="#e6e7da" stop-opacity="0"/></radialGradient><radialGradient id="pv6" gradientUnits="userSpaceOnUse" cx="805.6" cy="898.7" r="27.5"><stop offset="0" stop-color="#2f302c" stop-opacity="0.9"/><stop offset="0.4" stop-color="#4a4b45" stop-opacity="0.765"/><stop offset="1" stop-color="#e6e7da" stop-opacity="0"/></radialGradient><radialGradient id="pv7" gradientUnits="userSpaceOnUse" cx="818.5" cy="914.6" r="9.2"><stop offset="0" stop-color="#2f302c" stop-opacity="0.9"/><stop offset="0.4" stop-color="#4a4b45" stop-opacity="0.765"/><stop offset="1" stop-color="#e6e7da" stop-opacity="0"/></radialGradient><radialGradient id="pv8" gradientUnits="userSpaceOnUse" cx="825.5" cy="918.6" r="16.0"><stop offset="0" stop-color="#2f302c" stop-opacity="0.9"/><stop offset="0.4" stop-color="#4a4b45" stop-opacity="0.765"/><stop offset="1" stop-color="#e6e7da" stop-opacity="0"/></radialGradient><radialGradient id="pv9" gradientUnits="userSpaceOnUse" cx="873.2" cy="906.6" r="11.4"><stop offset="0" stop-color="#2f302c" stop-opacity="0.9"/><stop offset="0.4" stop-color="#4a4b45" stop-opacity="0.765"/><stop offset="1" stop-color="#e6e7da" stop-opacity="0"/></radialGradient><radialGradient id="pv10" gradientUnits="userSpaceOnUse" cx="863.3" cy="914.6" r="16.0"><stop offset="0" stop-color="#2f302c" stop-opacity="0.9"/><stop offset="0.4" stop-color="#4a4b45" stop-opacity="0.765"/><stop offset="1" stop-color="#e6e7da" stop-opacity="0"/></radialGradient><radialGradient id="pv11" gradientUnits="userSpaceOnUse" cx="886.1" cy="918.6" r="10.3"><stop offset="0" stop-color="#2f302c" stop-opacity="0.9"/><stop offset="0.4" stop-color="#4a4b45" stop-opacity="0.765"/><stop offset="1" stop-color="#e6e7da" stop-opacity="0"/></radialGradient></defs>
<path d="M727.0,926.9 L741.9,922.5 L769.7,919.6 L803.6,918.2 L839.4,917.0 L871.2,922.5 L899.1,932.9 L889.1,936.9 L859.3,938.9 L809.5,938.9 L771.7,935.5 L737.9,932.1Z" fill="#4e5141" filter="url(#blur1)"/>
<g transform="rotate(-10 784.7 877.8)"><ellipse cx="784.7" cy="877.8" rx="18.9" ry="18.9" fill="#eceddf" stroke="#8a8c66" stroke-width="1.2"/><ellipse cx="784.7" cy="877.8" rx="17.7" ry="17.7" fill="none" stroke="#c9cbab" stroke-width="1.4"/><ellipse cx="783.1" cy="879.3" rx="14.7" ry="14.7" fill="none" stroke="#b9bab0" stroke-opacity="0.55" stroke-width="0.9"/><ellipse cx="781.9" cy="880.6" rx="11.3" ry="11.3" fill="none" stroke="#b9bab0" stroke-opacity="0.55" stroke-width="0.9"/></g><ellipse cx="784.7" cy="877.8" rx="17.9" ry="17.9" fill="url(#pv1)" transform="rotate(-10 784.7 877.8)"/>
<g transform="rotate(0 832.4 900.7)"><ellipse cx="832.4" cy="900.7" rx="24.9" ry="17.9" fill="#eceddf" stroke="#8a8c66" stroke-width="1.2"/><ellipse cx="832.4" cy="900.7" rx="23.7" ry="16.7" fill="none" stroke="#c9cbab" stroke-width="1.4"/><ellipse cx="830.4" cy="899.3" rx="19.4" ry="14.0" fill="none" stroke="#b9bab0" stroke-opacity="0.55" stroke-width="0.9"/></g><ellipse cx="832.4" cy="900.7" rx="23.9" ry="16.9" fill="url(#pv2)" transform="rotate(0 832.4 900.7)"/>
<g transform="rotate(5 830.9 873.3)"><ellipse cx="830.9" cy="873.3" rx="26.4" ry="27.4" fill="#eceddf" stroke="#8a8c66" stroke-width="1.2"/><ellipse cx="830.9" cy="873.3" rx="25.2" ry="26.2" fill="none" stroke="#c9cbab" stroke-width="1.4"/><ellipse cx="828.4" cy="874.5" rx="20.6" ry="21.3" fill="none" stroke="#b9bab0" stroke-opacity="0.55" stroke-width="0.9"/><ellipse cx="826.3" cy="875.5" rx="15.8" ry="16.4" fill="none" stroke="#b9bab0" stroke-opacity="0.55" stroke-width="0.9"/></g><ellipse cx="830.9" cy="873.3" rx="25.4" ry="26.4" fill="url(#pv3)" transform="rotate(5 830.9 873.3)"/>
<g transform="rotate(0 753.8 886.7)"><ellipse cx="753.8" cy="886.7" rx="9.9" ry="6.4" fill="#eceddf" stroke="#8a8c66" stroke-width="1.2"/><ellipse cx="753.8" cy="886.7" rx="8.7" ry="5.2" fill="none" stroke="#c9cbab" stroke-width="1.4"/></g><ellipse cx="753.8" cy="886.7" rx="8.9" ry="5.4" fill="url(#pv4)" transform="rotate(0 753.8 886.7)"/>
<g transform="rotate(-12 763.8 909.6)"><ellipse cx="763.8" cy="909.6" rx="12.9" ry="16.9" fill="#eceddf" stroke="#8a8c66" stroke-width="1.2"/><ellipse cx="763.8" cy="909.6" rx="11.7" ry="15.7" fill="none" stroke="#c9cbab" stroke-width="1.4"/><ellipse cx="763.6" cy="909.4" rx="10.1" ry="13.2" fill="none" stroke="#b9bab0" stroke-opacity="0.55" stroke-width="0.9"/></g><ellipse cx="763.8" cy="909.6" rx="11.9" ry="15.9" fill="url(#pv5)" transform="rotate(-12 763.8 909.6)"/>
<g transform="rotate(15 793.1 901.7)"><ellipse cx="793.1" cy="901.7" rx="18.4" ry="21.9" fill="#eceddf" stroke="#8a8c66" stroke-width="1.2"/><ellipse cx="793.1" cy="901.7" rx="17.2" ry="20.7" fill="none" stroke="#c9cbab" stroke-width="1.4"/><ellipse cx="795.9" cy="901.0" rx="14.4" ry="17.1" fill="none" stroke="#b9bab0" stroke-opacity="0.55" stroke-width="0.9"/><ellipse cx="798.1" cy="900.5" rx="11.0" ry="13.1" fill="none" stroke="#b9bab0" stroke-opacity="0.55" stroke-width="0.9"/></g><ellipse cx="793.1" cy="901.7" rx="17.4" ry="20.9" fill="url(#pv6)" transform="rotate(15 793.1 901.7)"/>
<g transform="rotate(0 818.0 909.6)"><ellipse cx="818.0" cy="909.6" rx="6.5" ry="9.0" fill="#eceddf" stroke="#8a8c66" stroke-width="1.2"/><ellipse cx="818.0" cy="909.6" rx="5.3" ry="7.8" fill="none" stroke="#c9cbab" stroke-width="1.4"/></g><ellipse cx="818.0" cy="909.6" rx="5.5" ry="8.0" fill="url(#pv7)" transform="rotate(0 818.0 909.6)"/>
<g transform="rotate(0 827.4 923.2)"><ellipse cx="827.4" cy="923.2" rx="13.9" ry="9.6" fill="#eceddf" stroke="#8a8c66" stroke-width="1.2"/><ellipse cx="827.4" cy="923.2" rx="12.7" ry="8.4" fill="none" stroke="#c9cbab" stroke-width="1.4"/><ellipse cx="827.0" cy="922.2" rx="10.9" ry="7.5" fill="none" stroke="#b9bab0" stroke-opacity="0.55" stroke-width="0.9"/></g><ellipse cx="827.4" cy="923.2" rx="12.9" ry="8.6" fill="url(#pv8)" transform="rotate(0 827.4 923.2)"/>
<g transform="rotate(0 874.8 900.9)"><ellipse cx="874.8" cy="900.9" rx="9.9" ry="8.2" fill="#eceddf" stroke="#8a8c66" stroke-width="1.2"/><ellipse cx="874.8" cy="900.9" rx="8.7" ry="7.0" fill="none" stroke="#c9cbab" stroke-width="1.4"/><ellipse cx="874.4" cy="902.1" rx="7.8" ry="6.4" fill="none" stroke="#b9bab0" stroke-opacity="0.55" stroke-width="0.9"/></g><ellipse cx="874.8" cy="900.9" rx="8.9" ry="7.2" fill="url(#pv9)" transform="rotate(0 874.8 900.9)"/>
<g transform="rotate(10 869.2 916.8)"><ellipse cx="869.2" cy="916.8" rx="9.9" ry="12.1" fill="#eceddf" stroke="#8a8c66" stroke-width="1.2"/><ellipse cx="869.2" cy="916.8" rx="8.7" ry="10.9" fill="none" stroke="#c9cbab" stroke-width="1.4"/><ellipse cx="867.9" cy="916.3" rx="7.8" ry="9.5" fill="none" stroke="#b9bab0" stroke-opacity="0.55" stroke-width="0.9"/></g><ellipse cx="869.2" cy="916.8" rx="8.9" ry="11.1" fill="url(#pv10)" transform="rotate(10 869.2 916.8)"/>
<g transform="rotate(0 886.1 920.9)"><ellipse cx="886.1" cy="920.9" rx="7.0" ry="9.3" fill="#eceddf" stroke="#8a8c66" stroke-width="1.2"/><ellipse cx="886.1" cy="920.9" rx="5.8" ry="8.1" fill="none" stroke="#c9cbab" stroke-width="1.4"/></g><ellipse cx="886.1" cy="920.9" rx="6.0" ry="8.3" fill="url(#pv11)" transform="rotate(0 886.1 920.9)"/>
</g>
</svg>
</body></html>
